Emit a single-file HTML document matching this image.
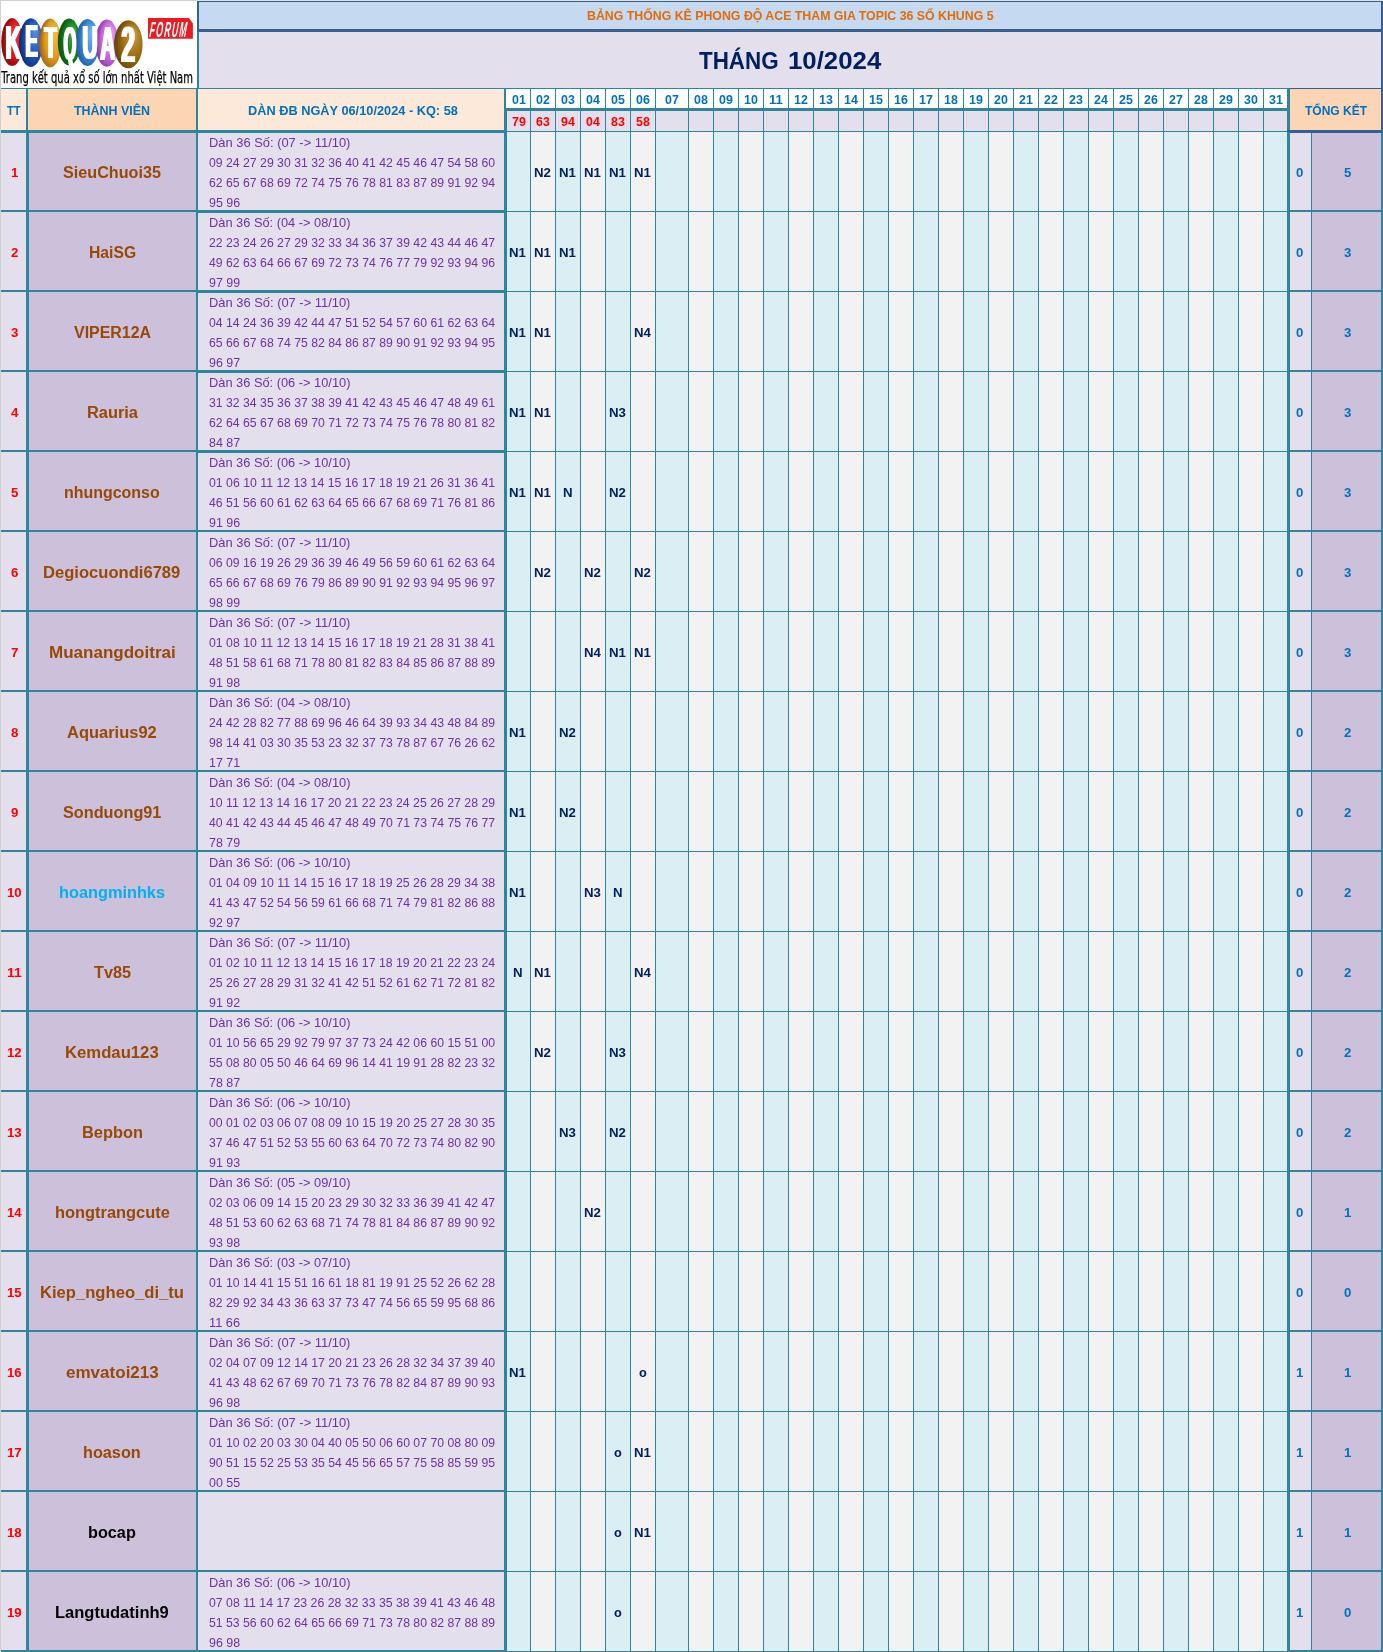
<!DOCTYPE html>
<html lang="vi"><head><meta charset="utf-8"><title>Bảng thống kê</title><style>
html,body{margin:0;padding:0;background:#fff}
#p{position:relative;width:1383px;height:1652px;overflow:hidden;font-family:"Liberation Sans",sans-serif}
.r{position:absolute}
.t{position:absolute;line-height:20px;height:20px;white-space:nowrap}
.b{font-weight:bold}.n{font-weight:normal}
.t span{display:inline-block;transform-origin:0 50%}
#logo{position:absolute;left:1px;top:1px;width:196px;height:87px}
</style></head><body><div id="p">
<div class="r" style="left:0px;top:0px;width:1383px;height:1652px;background:#d0d0d0"></div>
<div class="r" style="left:197px;top:0px;width:1186px;height:1px;background:#e5e1da"></div>
<div class="r" style="left:1px;top:1px;width:196px;height:87px;background:#ffffff"></div>
<div class="r" style="left:197px;top:1px;width:1186px;height:31px;background:#366092"></div>
<div class="r" style="left:199px;top:2px;width:1182px;height:27px;background:#c5d9f1"></div>
<div class="r" style="left:197px;top:32px;width:2px;height:56px;background:#31859b"></div>
<div class="r" style="left:199px;top:32px;width:1182px;height:56px;background:#e4dfec"></div>
<div class="r" style="left:1381px;top:32px;width:2px;height:56px;background:#366092"></div>
<div class="r" style="left:1px;top:88px;width:1289px;height:1px;background:#31859b"></div>
<div class="r" style="left:1290px;top:88px;width:93px;height:1px;background:#366092"></div>
<div class="r" style="left:1px;top:89px;width:1289px;height:44px;background:#31859b"></div>
<div class="r" style="left:1px;top:89px;width:25px;height:41px;background:#fde9d9"></div>
<div class="r" style="left:28px;top:89px;width:168px;height:41px;background:#fcd5b4"></div>
<div class="r" style="left:198px;top:89px;width:306px;height:41px;background:#fde9d9"></div>
<div class="r" style="left:506px;top:89px;width:24px;height:19px;background:#ffffff"></div>
<div class="r" style="left:507px;top:111px;width:23px;height:20px;background:#e4dfec"></div>
<div class="r" style="left:531px;top:89px;width:24px;height:19px;background:#ffffff"></div>
<div class="r" style="left:531px;top:111px;width:24px;height:20px;background:#e4dfec"></div>
<div class="r" style="left:556px;top:89px;width:24px;height:19px;background:#ffffff"></div>
<div class="r" style="left:556px;top:111px;width:24px;height:20px;background:#e4dfec"></div>
<div class="r" style="left:581px;top:89px;width:24px;height:19px;background:#ffffff"></div>
<div class="r" style="left:581px;top:111px;width:24px;height:20px;background:#e4dfec"></div>
<div class="r" style="left:606px;top:89px;width:24px;height:19px;background:#ffffff"></div>
<div class="r" style="left:606px;top:111px;width:24px;height:20px;background:#e4dfec"></div>
<div class="r" style="left:631px;top:89px;width:24px;height:19px;background:#ffffff"></div>
<div class="r" style="left:631px;top:111px;width:24px;height:20px;background:#e4dfec"></div>
<div class="r" style="left:656px;top:89px;width:32px;height:19px;background:#ffffff"></div>
<div class="r" style="left:656px;top:111px;width:32px;height:20px;background:#e4dfec"></div>
<div class="r" style="left:689px;top:89px;width:24px;height:19px;background:#ffffff"></div>
<div class="r" style="left:689px;top:111px;width:24px;height:20px;background:#e4dfec"></div>
<div class="r" style="left:714px;top:89px;width:24px;height:19px;background:#ffffff"></div>
<div class="r" style="left:714px;top:111px;width:24px;height:20px;background:#e4dfec"></div>
<div class="r" style="left:739px;top:89px;width:24px;height:19px;background:#ffffff"></div>
<div class="r" style="left:739px;top:111px;width:24px;height:20px;background:#e4dfec"></div>
<div class="r" style="left:764px;top:89px;width:24px;height:19px;background:#ffffff"></div>
<div class="r" style="left:764px;top:111px;width:24px;height:20px;background:#e4dfec"></div>
<div class="r" style="left:789px;top:89px;width:24px;height:19px;background:#ffffff"></div>
<div class="r" style="left:789px;top:111px;width:24px;height:20px;background:#e4dfec"></div>
<div class="r" style="left:814px;top:89px;width:24px;height:19px;background:#ffffff"></div>
<div class="r" style="left:814px;top:111px;width:24px;height:20px;background:#e4dfec"></div>
<div class="r" style="left:839px;top:89px;width:24px;height:19px;background:#ffffff"></div>
<div class="r" style="left:839px;top:111px;width:24px;height:20px;background:#e4dfec"></div>
<div class="r" style="left:864px;top:89px;width:24px;height:19px;background:#ffffff"></div>
<div class="r" style="left:864px;top:111px;width:24px;height:20px;background:#e4dfec"></div>
<div class="r" style="left:889px;top:89px;width:24px;height:19px;background:#ffffff"></div>
<div class="r" style="left:889px;top:111px;width:24px;height:20px;background:#e4dfec"></div>
<div class="r" style="left:914px;top:89px;width:24px;height:19px;background:#ffffff"></div>
<div class="r" style="left:914px;top:111px;width:24px;height:20px;background:#e4dfec"></div>
<div class="r" style="left:939px;top:89px;width:24px;height:19px;background:#ffffff"></div>
<div class="r" style="left:939px;top:111px;width:24px;height:20px;background:#e4dfec"></div>
<div class="r" style="left:964px;top:89px;width:24px;height:19px;background:#ffffff"></div>
<div class="r" style="left:964px;top:111px;width:24px;height:20px;background:#e4dfec"></div>
<div class="r" style="left:989px;top:89px;width:24px;height:19px;background:#ffffff"></div>
<div class="r" style="left:989px;top:111px;width:24px;height:20px;background:#e4dfec"></div>
<div class="r" style="left:1014px;top:89px;width:24px;height:19px;background:#ffffff"></div>
<div class="r" style="left:1014px;top:111px;width:24px;height:20px;background:#e4dfec"></div>
<div class="r" style="left:1039px;top:89px;width:24px;height:19px;background:#ffffff"></div>
<div class="r" style="left:1039px;top:111px;width:24px;height:20px;background:#e4dfec"></div>
<div class="r" style="left:1064px;top:89px;width:24px;height:19px;background:#ffffff"></div>
<div class="r" style="left:1064px;top:111px;width:24px;height:20px;background:#e4dfec"></div>
<div class="r" style="left:1089px;top:89px;width:24px;height:19px;background:#ffffff"></div>
<div class="r" style="left:1089px;top:111px;width:24px;height:20px;background:#e4dfec"></div>
<div class="r" style="left:1114px;top:89px;width:24px;height:19px;background:#ffffff"></div>
<div class="r" style="left:1114px;top:111px;width:24px;height:20px;background:#e4dfec"></div>
<div class="r" style="left:1139px;top:89px;width:24px;height:19px;background:#ffffff"></div>
<div class="r" style="left:1139px;top:111px;width:24px;height:20px;background:#e4dfec"></div>
<div class="r" style="left:1164px;top:89px;width:24px;height:19px;background:#ffffff"></div>
<div class="r" style="left:1164px;top:111px;width:24px;height:20px;background:#e4dfec"></div>
<div class="r" style="left:1189px;top:89px;width:24px;height:19px;background:#ffffff"></div>
<div class="r" style="left:1189px;top:111px;width:24px;height:20px;background:#e4dfec"></div>
<div class="r" style="left:1214px;top:89px;width:24px;height:19px;background:#ffffff"></div>
<div class="r" style="left:1214px;top:111px;width:24px;height:20px;background:#e4dfec"></div>
<div class="r" style="left:1239px;top:89px;width:24px;height:19px;background:#ffffff"></div>
<div class="r" style="left:1239px;top:111px;width:24px;height:20px;background:#e4dfec"></div>
<div class="r" style="left:1264px;top:89px;width:24px;height:19px;background:#ffffff"></div>
<div class="r" style="left:1264px;top:111px;width:23px;height:20px;background:#e4dfec"></div>
<div class="r" style="left:1287px;top:89px;width:3px;height:44px;background:#31859b"></div>
<div class="r" style="left:1290px;top:89px;width:93px;height:44px;background:#366092"></div>
<div class="r" style="left:1287px;top:130px;width:3px;height:3px;background:#366092"></div>
<div class="r" style="left:1290px;top:89px;width:91px;height:41px;background:#fcd5b4"></div>
<div class="r" style="left:1px;top:133px;width:1382px;height:1519px;background:#31859b"></div>
<div class="r" style="left:504px;top:132px;width:786px;height:1px;background:#31859b"></div>
<div class="r" style="left:1px;top:133px;width:25px;height:77px;background:#e4dfec"></div>
<div class="r" style="left:29px;top:133px;width:167px;height:77px;background:#ccc0da"></div>
<div class="r" style="left:198px;top:133px;width:306px;height:77px;background:#e4dfec"></div>
<div class="r" style="left:507px;top:132px;width:23px;height:79px;background:#daeef3"></div>
<div class="r" style="left:531px;top:132px;width:24px;height:79px;background:#f2f2f2"></div>
<div class="r" style="left:556px;top:132px;width:24px;height:79px;background:#daeef3"></div>
<div class="r" style="left:581px;top:132px;width:24px;height:79px;background:#f2f2f2"></div>
<div class="r" style="left:606px;top:132px;width:24px;height:79px;background:#daeef3"></div>
<div class="r" style="left:631px;top:132px;width:24px;height:79px;background:#f2f2f2"></div>
<div class="r" style="left:656px;top:132px;width:32px;height:79px;background:#daeef3"></div>
<div class="r" style="left:689px;top:132px;width:24px;height:79px;background:#f2f2f2"></div>
<div class="r" style="left:714px;top:132px;width:24px;height:79px;background:#daeef3"></div>
<div class="r" style="left:739px;top:132px;width:24px;height:79px;background:#f2f2f2"></div>
<div class="r" style="left:764px;top:132px;width:24px;height:79px;background:#daeef3"></div>
<div class="r" style="left:789px;top:132px;width:24px;height:79px;background:#f2f2f2"></div>
<div class="r" style="left:814px;top:132px;width:24px;height:79px;background:#daeef3"></div>
<div class="r" style="left:839px;top:132px;width:24px;height:79px;background:#f2f2f2"></div>
<div class="r" style="left:864px;top:132px;width:24px;height:79px;background:#daeef3"></div>
<div class="r" style="left:889px;top:132px;width:24px;height:79px;background:#f2f2f2"></div>
<div class="r" style="left:914px;top:132px;width:24px;height:79px;background:#daeef3"></div>
<div class="r" style="left:939px;top:132px;width:24px;height:79px;background:#f2f2f2"></div>
<div class="r" style="left:964px;top:132px;width:24px;height:79px;background:#daeef3"></div>
<div class="r" style="left:989px;top:132px;width:24px;height:79px;background:#f2f2f2"></div>
<div class="r" style="left:1014px;top:132px;width:24px;height:79px;background:#daeef3"></div>
<div class="r" style="left:1039px;top:132px;width:24px;height:79px;background:#f2f2f2"></div>
<div class="r" style="left:1064px;top:132px;width:24px;height:79px;background:#daeef3"></div>
<div class="r" style="left:1089px;top:132px;width:24px;height:79px;background:#f2f2f2"></div>
<div class="r" style="left:1114px;top:132px;width:24px;height:79px;background:#daeef3"></div>
<div class="r" style="left:1139px;top:132px;width:24px;height:79px;background:#f2f2f2"></div>
<div class="r" style="left:1164px;top:132px;width:24px;height:79px;background:#daeef3"></div>
<div class="r" style="left:1189px;top:132px;width:24px;height:79px;background:#f2f2f2"></div>
<div class="r" style="left:1214px;top:132px;width:24px;height:79px;background:#daeef3"></div>
<div class="r" style="left:1239px;top:132px;width:24px;height:79px;background:#f2f2f2"></div>
<div class="r" style="left:1264px;top:132px;width:23px;height:79px;background:#daeef3"></div>
<div class="r" style="left:1290px;top:133px;width:21px;height:77px;background:#e4dfec"></div>
<div class="r" style="left:1312px;top:133px;width:69px;height:77px;background:#ccc0da"></div>
<div class="r" style="left:1px;top:212px;width:25px;height:78px;background:#e4dfec"></div>
<div class="r" style="left:29px;top:212px;width:167px;height:78px;background:#ccc0da"></div>
<div class="r" style="left:198px;top:213px;width:306px;height:77px;background:#e4dfec"></div>
<div class="r" style="left:507px;top:212px;width:23px;height:79px;background:#daeef3"></div>
<div class="r" style="left:531px;top:212px;width:24px;height:79px;background:#f2f2f2"></div>
<div class="r" style="left:556px;top:212px;width:24px;height:79px;background:#daeef3"></div>
<div class="r" style="left:581px;top:212px;width:24px;height:79px;background:#f2f2f2"></div>
<div class="r" style="left:606px;top:212px;width:24px;height:79px;background:#daeef3"></div>
<div class="r" style="left:631px;top:212px;width:24px;height:79px;background:#f2f2f2"></div>
<div class="r" style="left:656px;top:212px;width:32px;height:79px;background:#daeef3"></div>
<div class="r" style="left:689px;top:212px;width:24px;height:79px;background:#f2f2f2"></div>
<div class="r" style="left:714px;top:212px;width:24px;height:79px;background:#daeef3"></div>
<div class="r" style="left:739px;top:212px;width:24px;height:79px;background:#f2f2f2"></div>
<div class="r" style="left:764px;top:212px;width:24px;height:79px;background:#daeef3"></div>
<div class="r" style="left:789px;top:212px;width:24px;height:79px;background:#f2f2f2"></div>
<div class="r" style="left:814px;top:212px;width:24px;height:79px;background:#daeef3"></div>
<div class="r" style="left:839px;top:212px;width:24px;height:79px;background:#f2f2f2"></div>
<div class="r" style="left:864px;top:212px;width:24px;height:79px;background:#daeef3"></div>
<div class="r" style="left:889px;top:212px;width:24px;height:79px;background:#f2f2f2"></div>
<div class="r" style="left:914px;top:212px;width:24px;height:79px;background:#daeef3"></div>
<div class="r" style="left:939px;top:212px;width:24px;height:79px;background:#f2f2f2"></div>
<div class="r" style="left:964px;top:212px;width:24px;height:79px;background:#daeef3"></div>
<div class="r" style="left:989px;top:212px;width:24px;height:79px;background:#f2f2f2"></div>
<div class="r" style="left:1014px;top:212px;width:24px;height:79px;background:#daeef3"></div>
<div class="r" style="left:1039px;top:212px;width:24px;height:79px;background:#f2f2f2"></div>
<div class="r" style="left:1064px;top:212px;width:24px;height:79px;background:#daeef3"></div>
<div class="r" style="left:1089px;top:212px;width:24px;height:79px;background:#f2f2f2"></div>
<div class="r" style="left:1114px;top:212px;width:24px;height:79px;background:#daeef3"></div>
<div class="r" style="left:1139px;top:212px;width:24px;height:79px;background:#f2f2f2"></div>
<div class="r" style="left:1164px;top:212px;width:24px;height:79px;background:#daeef3"></div>
<div class="r" style="left:1189px;top:212px;width:24px;height:79px;background:#f2f2f2"></div>
<div class="r" style="left:1214px;top:212px;width:24px;height:79px;background:#daeef3"></div>
<div class="r" style="left:1239px;top:212px;width:24px;height:79px;background:#f2f2f2"></div>
<div class="r" style="left:1264px;top:212px;width:23px;height:79px;background:#daeef3"></div>
<div class="r" style="left:1290px;top:212px;width:21px;height:78px;background:#e4dfec"></div>
<div class="r" style="left:1312px;top:212px;width:69px;height:78px;background:#ccc0da"></div>
<div class="r" style="left:1px;top:292px;width:25px;height:78px;background:#e4dfec"></div>
<div class="r" style="left:29px;top:292px;width:167px;height:78px;background:#ccc0da"></div>
<div class="r" style="left:198px;top:293px;width:306px;height:77px;background:#e4dfec"></div>
<div class="r" style="left:507px;top:292px;width:23px;height:79px;background:#daeef3"></div>
<div class="r" style="left:531px;top:292px;width:24px;height:79px;background:#f2f2f2"></div>
<div class="r" style="left:556px;top:292px;width:24px;height:79px;background:#daeef3"></div>
<div class="r" style="left:581px;top:292px;width:24px;height:79px;background:#f2f2f2"></div>
<div class="r" style="left:606px;top:292px;width:24px;height:79px;background:#daeef3"></div>
<div class="r" style="left:631px;top:292px;width:24px;height:79px;background:#f2f2f2"></div>
<div class="r" style="left:656px;top:292px;width:32px;height:79px;background:#daeef3"></div>
<div class="r" style="left:689px;top:292px;width:24px;height:79px;background:#f2f2f2"></div>
<div class="r" style="left:714px;top:292px;width:24px;height:79px;background:#daeef3"></div>
<div class="r" style="left:739px;top:292px;width:24px;height:79px;background:#f2f2f2"></div>
<div class="r" style="left:764px;top:292px;width:24px;height:79px;background:#daeef3"></div>
<div class="r" style="left:789px;top:292px;width:24px;height:79px;background:#f2f2f2"></div>
<div class="r" style="left:814px;top:292px;width:24px;height:79px;background:#daeef3"></div>
<div class="r" style="left:839px;top:292px;width:24px;height:79px;background:#f2f2f2"></div>
<div class="r" style="left:864px;top:292px;width:24px;height:79px;background:#daeef3"></div>
<div class="r" style="left:889px;top:292px;width:24px;height:79px;background:#f2f2f2"></div>
<div class="r" style="left:914px;top:292px;width:24px;height:79px;background:#daeef3"></div>
<div class="r" style="left:939px;top:292px;width:24px;height:79px;background:#f2f2f2"></div>
<div class="r" style="left:964px;top:292px;width:24px;height:79px;background:#daeef3"></div>
<div class="r" style="left:989px;top:292px;width:24px;height:79px;background:#f2f2f2"></div>
<div class="r" style="left:1014px;top:292px;width:24px;height:79px;background:#daeef3"></div>
<div class="r" style="left:1039px;top:292px;width:24px;height:79px;background:#f2f2f2"></div>
<div class="r" style="left:1064px;top:292px;width:24px;height:79px;background:#daeef3"></div>
<div class="r" style="left:1089px;top:292px;width:24px;height:79px;background:#f2f2f2"></div>
<div class="r" style="left:1114px;top:292px;width:24px;height:79px;background:#daeef3"></div>
<div class="r" style="left:1139px;top:292px;width:24px;height:79px;background:#f2f2f2"></div>
<div class="r" style="left:1164px;top:292px;width:24px;height:79px;background:#daeef3"></div>
<div class="r" style="left:1189px;top:292px;width:24px;height:79px;background:#f2f2f2"></div>
<div class="r" style="left:1214px;top:292px;width:24px;height:79px;background:#daeef3"></div>
<div class="r" style="left:1239px;top:292px;width:24px;height:79px;background:#f2f2f2"></div>
<div class="r" style="left:1264px;top:292px;width:23px;height:79px;background:#daeef3"></div>
<div class="r" style="left:1290px;top:292px;width:21px;height:78px;background:#e4dfec"></div>
<div class="r" style="left:1312px;top:292px;width:69px;height:78px;background:#ccc0da"></div>
<div class="r" style="left:1px;top:372px;width:25px;height:78px;background:#e4dfec"></div>
<div class="r" style="left:29px;top:372px;width:167px;height:78px;background:#ccc0da"></div>
<div class="r" style="left:198px;top:373px;width:306px;height:77px;background:#e4dfec"></div>
<div class="r" style="left:507px;top:372px;width:23px;height:79px;background:#daeef3"></div>
<div class="r" style="left:531px;top:372px;width:24px;height:79px;background:#f2f2f2"></div>
<div class="r" style="left:556px;top:372px;width:24px;height:79px;background:#daeef3"></div>
<div class="r" style="left:581px;top:372px;width:24px;height:79px;background:#f2f2f2"></div>
<div class="r" style="left:606px;top:372px;width:24px;height:79px;background:#daeef3"></div>
<div class="r" style="left:631px;top:372px;width:24px;height:79px;background:#f2f2f2"></div>
<div class="r" style="left:656px;top:372px;width:32px;height:79px;background:#daeef3"></div>
<div class="r" style="left:689px;top:372px;width:24px;height:79px;background:#f2f2f2"></div>
<div class="r" style="left:714px;top:372px;width:24px;height:79px;background:#daeef3"></div>
<div class="r" style="left:739px;top:372px;width:24px;height:79px;background:#f2f2f2"></div>
<div class="r" style="left:764px;top:372px;width:24px;height:79px;background:#daeef3"></div>
<div class="r" style="left:789px;top:372px;width:24px;height:79px;background:#f2f2f2"></div>
<div class="r" style="left:814px;top:372px;width:24px;height:79px;background:#daeef3"></div>
<div class="r" style="left:839px;top:372px;width:24px;height:79px;background:#f2f2f2"></div>
<div class="r" style="left:864px;top:372px;width:24px;height:79px;background:#daeef3"></div>
<div class="r" style="left:889px;top:372px;width:24px;height:79px;background:#f2f2f2"></div>
<div class="r" style="left:914px;top:372px;width:24px;height:79px;background:#daeef3"></div>
<div class="r" style="left:939px;top:372px;width:24px;height:79px;background:#f2f2f2"></div>
<div class="r" style="left:964px;top:372px;width:24px;height:79px;background:#daeef3"></div>
<div class="r" style="left:989px;top:372px;width:24px;height:79px;background:#f2f2f2"></div>
<div class="r" style="left:1014px;top:372px;width:24px;height:79px;background:#daeef3"></div>
<div class="r" style="left:1039px;top:372px;width:24px;height:79px;background:#f2f2f2"></div>
<div class="r" style="left:1064px;top:372px;width:24px;height:79px;background:#daeef3"></div>
<div class="r" style="left:1089px;top:372px;width:24px;height:79px;background:#f2f2f2"></div>
<div class="r" style="left:1114px;top:372px;width:24px;height:79px;background:#daeef3"></div>
<div class="r" style="left:1139px;top:372px;width:24px;height:79px;background:#f2f2f2"></div>
<div class="r" style="left:1164px;top:372px;width:24px;height:79px;background:#daeef3"></div>
<div class="r" style="left:1189px;top:372px;width:24px;height:79px;background:#f2f2f2"></div>
<div class="r" style="left:1214px;top:372px;width:24px;height:79px;background:#daeef3"></div>
<div class="r" style="left:1239px;top:372px;width:24px;height:79px;background:#f2f2f2"></div>
<div class="r" style="left:1264px;top:372px;width:23px;height:79px;background:#daeef3"></div>
<div class="r" style="left:1290px;top:372px;width:21px;height:78px;background:#e4dfec"></div>
<div class="r" style="left:1312px;top:372px;width:69px;height:78px;background:#ccc0da"></div>
<div class="r" style="left:1px;top:452px;width:25px;height:78px;background:#e4dfec"></div>
<div class="r" style="left:29px;top:452px;width:167px;height:78px;background:#ccc0da"></div>
<div class="r" style="left:198px;top:453px;width:306px;height:77px;background:#e4dfec"></div>
<div class="r" style="left:507px;top:452px;width:23px;height:79px;background:#daeef3"></div>
<div class="r" style="left:531px;top:452px;width:24px;height:79px;background:#f2f2f2"></div>
<div class="r" style="left:556px;top:452px;width:24px;height:79px;background:#daeef3"></div>
<div class="r" style="left:581px;top:452px;width:24px;height:79px;background:#f2f2f2"></div>
<div class="r" style="left:606px;top:452px;width:24px;height:79px;background:#daeef3"></div>
<div class="r" style="left:631px;top:452px;width:24px;height:79px;background:#f2f2f2"></div>
<div class="r" style="left:656px;top:452px;width:32px;height:79px;background:#daeef3"></div>
<div class="r" style="left:689px;top:452px;width:24px;height:79px;background:#f2f2f2"></div>
<div class="r" style="left:714px;top:452px;width:24px;height:79px;background:#daeef3"></div>
<div class="r" style="left:739px;top:452px;width:24px;height:79px;background:#f2f2f2"></div>
<div class="r" style="left:764px;top:452px;width:24px;height:79px;background:#daeef3"></div>
<div class="r" style="left:789px;top:452px;width:24px;height:79px;background:#f2f2f2"></div>
<div class="r" style="left:814px;top:452px;width:24px;height:79px;background:#daeef3"></div>
<div class="r" style="left:839px;top:452px;width:24px;height:79px;background:#f2f2f2"></div>
<div class="r" style="left:864px;top:452px;width:24px;height:79px;background:#daeef3"></div>
<div class="r" style="left:889px;top:452px;width:24px;height:79px;background:#f2f2f2"></div>
<div class="r" style="left:914px;top:452px;width:24px;height:79px;background:#daeef3"></div>
<div class="r" style="left:939px;top:452px;width:24px;height:79px;background:#f2f2f2"></div>
<div class="r" style="left:964px;top:452px;width:24px;height:79px;background:#daeef3"></div>
<div class="r" style="left:989px;top:452px;width:24px;height:79px;background:#f2f2f2"></div>
<div class="r" style="left:1014px;top:452px;width:24px;height:79px;background:#daeef3"></div>
<div class="r" style="left:1039px;top:452px;width:24px;height:79px;background:#f2f2f2"></div>
<div class="r" style="left:1064px;top:452px;width:24px;height:79px;background:#daeef3"></div>
<div class="r" style="left:1089px;top:452px;width:24px;height:79px;background:#f2f2f2"></div>
<div class="r" style="left:1114px;top:452px;width:24px;height:79px;background:#daeef3"></div>
<div class="r" style="left:1139px;top:452px;width:24px;height:79px;background:#f2f2f2"></div>
<div class="r" style="left:1164px;top:452px;width:24px;height:79px;background:#daeef3"></div>
<div class="r" style="left:1189px;top:452px;width:24px;height:79px;background:#f2f2f2"></div>
<div class="r" style="left:1214px;top:452px;width:24px;height:79px;background:#daeef3"></div>
<div class="r" style="left:1239px;top:452px;width:24px;height:79px;background:#f2f2f2"></div>
<div class="r" style="left:1264px;top:452px;width:23px;height:79px;background:#daeef3"></div>
<div class="r" style="left:1290px;top:452px;width:21px;height:78px;background:#e4dfec"></div>
<div class="r" style="left:1312px;top:452px;width:69px;height:78px;background:#ccc0da"></div>
<div class="r" style="left:1px;top:532px;width:25px;height:78px;background:#e4dfec"></div>
<div class="r" style="left:29px;top:532px;width:167px;height:78px;background:#ccc0da"></div>
<div class="r" style="left:198px;top:532px;width:306px;height:78px;background:#e4dfec"></div>
<div class="r" style="left:507px;top:532px;width:23px;height:79px;background:#daeef3"></div>
<div class="r" style="left:531px;top:532px;width:24px;height:79px;background:#f2f2f2"></div>
<div class="r" style="left:556px;top:532px;width:24px;height:79px;background:#daeef3"></div>
<div class="r" style="left:581px;top:532px;width:24px;height:79px;background:#f2f2f2"></div>
<div class="r" style="left:606px;top:532px;width:24px;height:79px;background:#daeef3"></div>
<div class="r" style="left:631px;top:532px;width:24px;height:79px;background:#f2f2f2"></div>
<div class="r" style="left:656px;top:532px;width:32px;height:79px;background:#daeef3"></div>
<div class="r" style="left:689px;top:532px;width:24px;height:79px;background:#f2f2f2"></div>
<div class="r" style="left:714px;top:532px;width:24px;height:79px;background:#daeef3"></div>
<div class="r" style="left:739px;top:532px;width:24px;height:79px;background:#f2f2f2"></div>
<div class="r" style="left:764px;top:532px;width:24px;height:79px;background:#daeef3"></div>
<div class="r" style="left:789px;top:532px;width:24px;height:79px;background:#f2f2f2"></div>
<div class="r" style="left:814px;top:532px;width:24px;height:79px;background:#daeef3"></div>
<div class="r" style="left:839px;top:532px;width:24px;height:79px;background:#f2f2f2"></div>
<div class="r" style="left:864px;top:532px;width:24px;height:79px;background:#daeef3"></div>
<div class="r" style="left:889px;top:532px;width:24px;height:79px;background:#f2f2f2"></div>
<div class="r" style="left:914px;top:532px;width:24px;height:79px;background:#daeef3"></div>
<div class="r" style="left:939px;top:532px;width:24px;height:79px;background:#f2f2f2"></div>
<div class="r" style="left:964px;top:532px;width:24px;height:79px;background:#daeef3"></div>
<div class="r" style="left:989px;top:532px;width:24px;height:79px;background:#f2f2f2"></div>
<div class="r" style="left:1014px;top:532px;width:24px;height:79px;background:#daeef3"></div>
<div class="r" style="left:1039px;top:532px;width:24px;height:79px;background:#f2f2f2"></div>
<div class="r" style="left:1064px;top:532px;width:24px;height:79px;background:#daeef3"></div>
<div class="r" style="left:1089px;top:532px;width:24px;height:79px;background:#f2f2f2"></div>
<div class="r" style="left:1114px;top:532px;width:24px;height:79px;background:#daeef3"></div>
<div class="r" style="left:1139px;top:532px;width:24px;height:79px;background:#f2f2f2"></div>
<div class="r" style="left:1164px;top:532px;width:24px;height:79px;background:#daeef3"></div>
<div class="r" style="left:1189px;top:532px;width:24px;height:79px;background:#f2f2f2"></div>
<div class="r" style="left:1214px;top:532px;width:24px;height:79px;background:#daeef3"></div>
<div class="r" style="left:1239px;top:532px;width:24px;height:79px;background:#f2f2f2"></div>
<div class="r" style="left:1264px;top:532px;width:23px;height:79px;background:#daeef3"></div>
<div class="r" style="left:1290px;top:532px;width:21px;height:78px;background:#e4dfec"></div>
<div class="r" style="left:1312px;top:532px;width:69px;height:78px;background:#ccc0da"></div>
<div class="r" style="left:1px;top:612px;width:25px;height:78px;background:#e4dfec"></div>
<div class="r" style="left:29px;top:612px;width:167px;height:78px;background:#ccc0da"></div>
<div class="r" style="left:198px;top:612px;width:306px;height:78px;background:#e4dfec"></div>
<div class="r" style="left:507px;top:612px;width:23px;height:79px;background:#daeef3"></div>
<div class="r" style="left:531px;top:612px;width:24px;height:79px;background:#f2f2f2"></div>
<div class="r" style="left:556px;top:612px;width:24px;height:79px;background:#daeef3"></div>
<div class="r" style="left:581px;top:612px;width:24px;height:79px;background:#f2f2f2"></div>
<div class="r" style="left:606px;top:612px;width:24px;height:79px;background:#daeef3"></div>
<div class="r" style="left:631px;top:612px;width:24px;height:79px;background:#f2f2f2"></div>
<div class="r" style="left:656px;top:612px;width:32px;height:79px;background:#daeef3"></div>
<div class="r" style="left:689px;top:612px;width:24px;height:79px;background:#f2f2f2"></div>
<div class="r" style="left:714px;top:612px;width:24px;height:79px;background:#daeef3"></div>
<div class="r" style="left:739px;top:612px;width:24px;height:79px;background:#f2f2f2"></div>
<div class="r" style="left:764px;top:612px;width:24px;height:79px;background:#daeef3"></div>
<div class="r" style="left:789px;top:612px;width:24px;height:79px;background:#f2f2f2"></div>
<div class="r" style="left:814px;top:612px;width:24px;height:79px;background:#daeef3"></div>
<div class="r" style="left:839px;top:612px;width:24px;height:79px;background:#f2f2f2"></div>
<div class="r" style="left:864px;top:612px;width:24px;height:79px;background:#daeef3"></div>
<div class="r" style="left:889px;top:612px;width:24px;height:79px;background:#f2f2f2"></div>
<div class="r" style="left:914px;top:612px;width:24px;height:79px;background:#daeef3"></div>
<div class="r" style="left:939px;top:612px;width:24px;height:79px;background:#f2f2f2"></div>
<div class="r" style="left:964px;top:612px;width:24px;height:79px;background:#daeef3"></div>
<div class="r" style="left:989px;top:612px;width:24px;height:79px;background:#f2f2f2"></div>
<div class="r" style="left:1014px;top:612px;width:24px;height:79px;background:#daeef3"></div>
<div class="r" style="left:1039px;top:612px;width:24px;height:79px;background:#f2f2f2"></div>
<div class="r" style="left:1064px;top:612px;width:24px;height:79px;background:#daeef3"></div>
<div class="r" style="left:1089px;top:612px;width:24px;height:79px;background:#f2f2f2"></div>
<div class="r" style="left:1114px;top:612px;width:24px;height:79px;background:#daeef3"></div>
<div class="r" style="left:1139px;top:612px;width:24px;height:79px;background:#f2f2f2"></div>
<div class="r" style="left:1164px;top:612px;width:24px;height:79px;background:#daeef3"></div>
<div class="r" style="left:1189px;top:612px;width:24px;height:79px;background:#f2f2f2"></div>
<div class="r" style="left:1214px;top:612px;width:24px;height:79px;background:#daeef3"></div>
<div class="r" style="left:1239px;top:612px;width:24px;height:79px;background:#f2f2f2"></div>
<div class="r" style="left:1264px;top:612px;width:23px;height:79px;background:#daeef3"></div>
<div class="r" style="left:1290px;top:612px;width:21px;height:78px;background:#e4dfec"></div>
<div class="r" style="left:1312px;top:612px;width:69px;height:78px;background:#ccc0da"></div>
<div class="r" style="left:1px;top:692px;width:25px;height:78px;background:#e4dfec"></div>
<div class="r" style="left:29px;top:692px;width:167px;height:78px;background:#ccc0da"></div>
<div class="r" style="left:198px;top:692px;width:306px;height:78px;background:#e4dfec"></div>
<div class="r" style="left:507px;top:692px;width:23px;height:79px;background:#daeef3"></div>
<div class="r" style="left:531px;top:692px;width:24px;height:79px;background:#f2f2f2"></div>
<div class="r" style="left:556px;top:692px;width:24px;height:79px;background:#daeef3"></div>
<div class="r" style="left:581px;top:692px;width:24px;height:79px;background:#f2f2f2"></div>
<div class="r" style="left:606px;top:692px;width:24px;height:79px;background:#daeef3"></div>
<div class="r" style="left:631px;top:692px;width:24px;height:79px;background:#f2f2f2"></div>
<div class="r" style="left:656px;top:692px;width:32px;height:79px;background:#daeef3"></div>
<div class="r" style="left:689px;top:692px;width:24px;height:79px;background:#f2f2f2"></div>
<div class="r" style="left:714px;top:692px;width:24px;height:79px;background:#daeef3"></div>
<div class="r" style="left:739px;top:692px;width:24px;height:79px;background:#f2f2f2"></div>
<div class="r" style="left:764px;top:692px;width:24px;height:79px;background:#daeef3"></div>
<div class="r" style="left:789px;top:692px;width:24px;height:79px;background:#f2f2f2"></div>
<div class="r" style="left:814px;top:692px;width:24px;height:79px;background:#daeef3"></div>
<div class="r" style="left:839px;top:692px;width:24px;height:79px;background:#f2f2f2"></div>
<div class="r" style="left:864px;top:692px;width:24px;height:79px;background:#daeef3"></div>
<div class="r" style="left:889px;top:692px;width:24px;height:79px;background:#f2f2f2"></div>
<div class="r" style="left:914px;top:692px;width:24px;height:79px;background:#daeef3"></div>
<div class="r" style="left:939px;top:692px;width:24px;height:79px;background:#f2f2f2"></div>
<div class="r" style="left:964px;top:692px;width:24px;height:79px;background:#daeef3"></div>
<div class="r" style="left:989px;top:692px;width:24px;height:79px;background:#f2f2f2"></div>
<div class="r" style="left:1014px;top:692px;width:24px;height:79px;background:#daeef3"></div>
<div class="r" style="left:1039px;top:692px;width:24px;height:79px;background:#f2f2f2"></div>
<div class="r" style="left:1064px;top:692px;width:24px;height:79px;background:#daeef3"></div>
<div class="r" style="left:1089px;top:692px;width:24px;height:79px;background:#f2f2f2"></div>
<div class="r" style="left:1114px;top:692px;width:24px;height:79px;background:#daeef3"></div>
<div class="r" style="left:1139px;top:692px;width:24px;height:79px;background:#f2f2f2"></div>
<div class="r" style="left:1164px;top:692px;width:24px;height:79px;background:#daeef3"></div>
<div class="r" style="left:1189px;top:692px;width:24px;height:79px;background:#f2f2f2"></div>
<div class="r" style="left:1214px;top:692px;width:24px;height:79px;background:#daeef3"></div>
<div class="r" style="left:1239px;top:692px;width:24px;height:79px;background:#f2f2f2"></div>
<div class="r" style="left:1264px;top:692px;width:23px;height:79px;background:#daeef3"></div>
<div class="r" style="left:1290px;top:692px;width:21px;height:78px;background:#e4dfec"></div>
<div class="r" style="left:1312px;top:692px;width:69px;height:78px;background:#ccc0da"></div>
<div class="r" style="left:1px;top:772px;width:25px;height:78px;background:#e4dfec"></div>
<div class="r" style="left:29px;top:772px;width:167px;height:78px;background:#ccc0da"></div>
<div class="r" style="left:198px;top:772px;width:306px;height:78px;background:#e4dfec"></div>
<div class="r" style="left:507px;top:772px;width:23px;height:79px;background:#daeef3"></div>
<div class="r" style="left:531px;top:772px;width:24px;height:79px;background:#f2f2f2"></div>
<div class="r" style="left:556px;top:772px;width:24px;height:79px;background:#daeef3"></div>
<div class="r" style="left:581px;top:772px;width:24px;height:79px;background:#f2f2f2"></div>
<div class="r" style="left:606px;top:772px;width:24px;height:79px;background:#daeef3"></div>
<div class="r" style="left:631px;top:772px;width:24px;height:79px;background:#f2f2f2"></div>
<div class="r" style="left:656px;top:772px;width:32px;height:79px;background:#daeef3"></div>
<div class="r" style="left:689px;top:772px;width:24px;height:79px;background:#f2f2f2"></div>
<div class="r" style="left:714px;top:772px;width:24px;height:79px;background:#daeef3"></div>
<div class="r" style="left:739px;top:772px;width:24px;height:79px;background:#f2f2f2"></div>
<div class="r" style="left:764px;top:772px;width:24px;height:79px;background:#daeef3"></div>
<div class="r" style="left:789px;top:772px;width:24px;height:79px;background:#f2f2f2"></div>
<div class="r" style="left:814px;top:772px;width:24px;height:79px;background:#daeef3"></div>
<div class="r" style="left:839px;top:772px;width:24px;height:79px;background:#f2f2f2"></div>
<div class="r" style="left:864px;top:772px;width:24px;height:79px;background:#daeef3"></div>
<div class="r" style="left:889px;top:772px;width:24px;height:79px;background:#f2f2f2"></div>
<div class="r" style="left:914px;top:772px;width:24px;height:79px;background:#daeef3"></div>
<div class="r" style="left:939px;top:772px;width:24px;height:79px;background:#f2f2f2"></div>
<div class="r" style="left:964px;top:772px;width:24px;height:79px;background:#daeef3"></div>
<div class="r" style="left:989px;top:772px;width:24px;height:79px;background:#f2f2f2"></div>
<div class="r" style="left:1014px;top:772px;width:24px;height:79px;background:#daeef3"></div>
<div class="r" style="left:1039px;top:772px;width:24px;height:79px;background:#f2f2f2"></div>
<div class="r" style="left:1064px;top:772px;width:24px;height:79px;background:#daeef3"></div>
<div class="r" style="left:1089px;top:772px;width:24px;height:79px;background:#f2f2f2"></div>
<div class="r" style="left:1114px;top:772px;width:24px;height:79px;background:#daeef3"></div>
<div class="r" style="left:1139px;top:772px;width:24px;height:79px;background:#f2f2f2"></div>
<div class="r" style="left:1164px;top:772px;width:24px;height:79px;background:#daeef3"></div>
<div class="r" style="left:1189px;top:772px;width:24px;height:79px;background:#f2f2f2"></div>
<div class="r" style="left:1214px;top:772px;width:24px;height:79px;background:#daeef3"></div>
<div class="r" style="left:1239px;top:772px;width:24px;height:79px;background:#f2f2f2"></div>
<div class="r" style="left:1264px;top:772px;width:23px;height:79px;background:#daeef3"></div>
<div class="r" style="left:1290px;top:772px;width:21px;height:78px;background:#e4dfec"></div>
<div class="r" style="left:1312px;top:772px;width:69px;height:78px;background:#ccc0da"></div>
<div class="r" style="left:1px;top:852px;width:25px;height:78px;background:#e4dfec"></div>
<div class="r" style="left:29px;top:852px;width:167px;height:78px;background:#ccc0da"></div>
<div class="r" style="left:198px;top:852px;width:306px;height:78px;background:#e4dfec"></div>
<div class="r" style="left:507px;top:852px;width:23px;height:79px;background:#daeef3"></div>
<div class="r" style="left:531px;top:852px;width:24px;height:79px;background:#f2f2f2"></div>
<div class="r" style="left:556px;top:852px;width:24px;height:79px;background:#daeef3"></div>
<div class="r" style="left:581px;top:852px;width:24px;height:79px;background:#f2f2f2"></div>
<div class="r" style="left:606px;top:852px;width:24px;height:79px;background:#daeef3"></div>
<div class="r" style="left:631px;top:852px;width:24px;height:79px;background:#f2f2f2"></div>
<div class="r" style="left:656px;top:852px;width:32px;height:79px;background:#daeef3"></div>
<div class="r" style="left:689px;top:852px;width:24px;height:79px;background:#f2f2f2"></div>
<div class="r" style="left:714px;top:852px;width:24px;height:79px;background:#daeef3"></div>
<div class="r" style="left:739px;top:852px;width:24px;height:79px;background:#f2f2f2"></div>
<div class="r" style="left:764px;top:852px;width:24px;height:79px;background:#daeef3"></div>
<div class="r" style="left:789px;top:852px;width:24px;height:79px;background:#f2f2f2"></div>
<div class="r" style="left:814px;top:852px;width:24px;height:79px;background:#daeef3"></div>
<div class="r" style="left:839px;top:852px;width:24px;height:79px;background:#f2f2f2"></div>
<div class="r" style="left:864px;top:852px;width:24px;height:79px;background:#daeef3"></div>
<div class="r" style="left:889px;top:852px;width:24px;height:79px;background:#f2f2f2"></div>
<div class="r" style="left:914px;top:852px;width:24px;height:79px;background:#daeef3"></div>
<div class="r" style="left:939px;top:852px;width:24px;height:79px;background:#f2f2f2"></div>
<div class="r" style="left:964px;top:852px;width:24px;height:79px;background:#daeef3"></div>
<div class="r" style="left:989px;top:852px;width:24px;height:79px;background:#f2f2f2"></div>
<div class="r" style="left:1014px;top:852px;width:24px;height:79px;background:#daeef3"></div>
<div class="r" style="left:1039px;top:852px;width:24px;height:79px;background:#f2f2f2"></div>
<div class="r" style="left:1064px;top:852px;width:24px;height:79px;background:#daeef3"></div>
<div class="r" style="left:1089px;top:852px;width:24px;height:79px;background:#f2f2f2"></div>
<div class="r" style="left:1114px;top:852px;width:24px;height:79px;background:#daeef3"></div>
<div class="r" style="left:1139px;top:852px;width:24px;height:79px;background:#f2f2f2"></div>
<div class="r" style="left:1164px;top:852px;width:24px;height:79px;background:#daeef3"></div>
<div class="r" style="left:1189px;top:852px;width:24px;height:79px;background:#f2f2f2"></div>
<div class="r" style="left:1214px;top:852px;width:24px;height:79px;background:#daeef3"></div>
<div class="r" style="left:1239px;top:852px;width:24px;height:79px;background:#f2f2f2"></div>
<div class="r" style="left:1264px;top:852px;width:23px;height:79px;background:#daeef3"></div>
<div class="r" style="left:1290px;top:852px;width:21px;height:78px;background:#e4dfec"></div>
<div class="r" style="left:1312px;top:852px;width:69px;height:78px;background:#ccc0da"></div>
<div class="r" style="left:1px;top:932px;width:25px;height:78px;background:#e4dfec"></div>
<div class="r" style="left:29px;top:932px;width:167px;height:78px;background:#ccc0da"></div>
<div class="r" style="left:198px;top:932px;width:306px;height:78px;background:#e4dfec"></div>
<div class="r" style="left:507px;top:932px;width:23px;height:79px;background:#daeef3"></div>
<div class="r" style="left:531px;top:932px;width:24px;height:79px;background:#f2f2f2"></div>
<div class="r" style="left:556px;top:932px;width:24px;height:79px;background:#daeef3"></div>
<div class="r" style="left:581px;top:932px;width:24px;height:79px;background:#f2f2f2"></div>
<div class="r" style="left:606px;top:932px;width:24px;height:79px;background:#daeef3"></div>
<div class="r" style="left:631px;top:932px;width:24px;height:79px;background:#f2f2f2"></div>
<div class="r" style="left:656px;top:932px;width:32px;height:79px;background:#daeef3"></div>
<div class="r" style="left:689px;top:932px;width:24px;height:79px;background:#f2f2f2"></div>
<div class="r" style="left:714px;top:932px;width:24px;height:79px;background:#daeef3"></div>
<div class="r" style="left:739px;top:932px;width:24px;height:79px;background:#f2f2f2"></div>
<div class="r" style="left:764px;top:932px;width:24px;height:79px;background:#daeef3"></div>
<div class="r" style="left:789px;top:932px;width:24px;height:79px;background:#f2f2f2"></div>
<div class="r" style="left:814px;top:932px;width:24px;height:79px;background:#daeef3"></div>
<div class="r" style="left:839px;top:932px;width:24px;height:79px;background:#f2f2f2"></div>
<div class="r" style="left:864px;top:932px;width:24px;height:79px;background:#daeef3"></div>
<div class="r" style="left:889px;top:932px;width:24px;height:79px;background:#f2f2f2"></div>
<div class="r" style="left:914px;top:932px;width:24px;height:79px;background:#daeef3"></div>
<div class="r" style="left:939px;top:932px;width:24px;height:79px;background:#f2f2f2"></div>
<div class="r" style="left:964px;top:932px;width:24px;height:79px;background:#daeef3"></div>
<div class="r" style="left:989px;top:932px;width:24px;height:79px;background:#f2f2f2"></div>
<div class="r" style="left:1014px;top:932px;width:24px;height:79px;background:#daeef3"></div>
<div class="r" style="left:1039px;top:932px;width:24px;height:79px;background:#f2f2f2"></div>
<div class="r" style="left:1064px;top:932px;width:24px;height:79px;background:#daeef3"></div>
<div class="r" style="left:1089px;top:932px;width:24px;height:79px;background:#f2f2f2"></div>
<div class="r" style="left:1114px;top:932px;width:24px;height:79px;background:#daeef3"></div>
<div class="r" style="left:1139px;top:932px;width:24px;height:79px;background:#f2f2f2"></div>
<div class="r" style="left:1164px;top:932px;width:24px;height:79px;background:#daeef3"></div>
<div class="r" style="left:1189px;top:932px;width:24px;height:79px;background:#f2f2f2"></div>
<div class="r" style="left:1214px;top:932px;width:24px;height:79px;background:#daeef3"></div>
<div class="r" style="left:1239px;top:932px;width:24px;height:79px;background:#f2f2f2"></div>
<div class="r" style="left:1264px;top:932px;width:23px;height:79px;background:#daeef3"></div>
<div class="r" style="left:1290px;top:932px;width:21px;height:78px;background:#e4dfec"></div>
<div class="r" style="left:1312px;top:932px;width:69px;height:78px;background:#ccc0da"></div>
<div class="r" style="left:1px;top:1012px;width:25px;height:78px;background:#e4dfec"></div>
<div class="r" style="left:29px;top:1012px;width:167px;height:78px;background:#ccc0da"></div>
<div class="r" style="left:198px;top:1012px;width:306px;height:78px;background:#e4dfec"></div>
<div class="r" style="left:507px;top:1012px;width:23px;height:79px;background:#daeef3"></div>
<div class="r" style="left:531px;top:1012px;width:24px;height:79px;background:#f2f2f2"></div>
<div class="r" style="left:556px;top:1012px;width:24px;height:79px;background:#daeef3"></div>
<div class="r" style="left:581px;top:1012px;width:24px;height:79px;background:#f2f2f2"></div>
<div class="r" style="left:606px;top:1012px;width:24px;height:79px;background:#daeef3"></div>
<div class="r" style="left:631px;top:1012px;width:24px;height:79px;background:#f2f2f2"></div>
<div class="r" style="left:656px;top:1012px;width:32px;height:79px;background:#daeef3"></div>
<div class="r" style="left:689px;top:1012px;width:24px;height:79px;background:#f2f2f2"></div>
<div class="r" style="left:714px;top:1012px;width:24px;height:79px;background:#daeef3"></div>
<div class="r" style="left:739px;top:1012px;width:24px;height:79px;background:#f2f2f2"></div>
<div class="r" style="left:764px;top:1012px;width:24px;height:79px;background:#daeef3"></div>
<div class="r" style="left:789px;top:1012px;width:24px;height:79px;background:#f2f2f2"></div>
<div class="r" style="left:814px;top:1012px;width:24px;height:79px;background:#daeef3"></div>
<div class="r" style="left:839px;top:1012px;width:24px;height:79px;background:#f2f2f2"></div>
<div class="r" style="left:864px;top:1012px;width:24px;height:79px;background:#daeef3"></div>
<div class="r" style="left:889px;top:1012px;width:24px;height:79px;background:#f2f2f2"></div>
<div class="r" style="left:914px;top:1012px;width:24px;height:79px;background:#daeef3"></div>
<div class="r" style="left:939px;top:1012px;width:24px;height:79px;background:#f2f2f2"></div>
<div class="r" style="left:964px;top:1012px;width:24px;height:79px;background:#daeef3"></div>
<div class="r" style="left:989px;top:1012px;width:24px;height:79px;background:#f2f2f2"></div>
<div class="r" style="left:1014px;top:1012px;width:24px;height:79px;background:#daeef3"></div>
<div class="r" style="left:1039px;top:1012px;width:24px;height:79px;background:#f2f2f2"></div>
<div class="r" style="left:1064px;top:1012px;width:24px;height:79px;background:#daeef3"></div>
<div class="r" style="left:1089px;top:1012px;width:24px;height:79px;background:#f2f2f2"></div>
<div class="r" style="left:1114px;top:1012px;width:24px;height:79px;background:#daeef3"></div>
<div class="r" style="left:1139px;top:1012px;width:24px;height:79px;background:#f2f2f2"></div>
<div class="r" style="left:1164px;top:1012px;width:24px;height:79px;background:#daeef3"></div>
<div class="r" style="left:1189px;top:1012px;width:24px;height:79px;background:#f2f2f2"></div>
<div class="r" style="left:1214px;top:1012px;width:24px;height:79px;background:#daeef3"></div>
<div class="r" style="left:1239px;top:1012px;width:24px;height:79px;background:#f2f2f2"></div>
<div class="r" style="left:1264px;top:1012px;width:23px;height:79px;background:#daeef3"></div>
<div class="r" style="left:1290px;top:1012px;width:21px;height:78px;background:#e4dfec"></div>
<div class="r" style="left:1312px;top:1012px;width:69px;height:78px;background:#ccc0da"></div>
<div class="r" style="left:1px;top:1092px;width:25px;height:78px;background:#e4dfec"></div>
<div class="r" style="left:29px;top:1092px;width:167px;height:78px;background:#ccc0da"></div>
<div class="r" style="left:198px;top:1092px;width:306px;height:78px;background:#e4dfec"></div>
<div class="r" style="left:507px;top:1092px;width:23px;height:79px;background:#daeef3"></div>
<div class="r" style="left:531px;top:1092px;width:24px;height:79px;background:#f2f2f2"></div>
<div class="r" style="left:556px;top:1092px;width:24px;height:79px;background:#daeef3"></div>
<div class="r" style="left:581px;top:1092px;width:24px;height:79px;background:#f2f2f2"></div>
<div class="r" style="left:606px;top:1092px;width:24px;height:79px;background:#daeef3"></div>
<div class="r" style="left:631px;top:1092px;width:24px;height:79px;background:#f2f2f2"></div>
<div class="r" style="left:656px;top:1092px;width:32px;height:79px;background:#daeef3"></div>
<div class="r" style="left:689px;top:1092px;width:24px;height:79px;background:#f2f2f2"></div>
<div class="r" style="left:714px;top:1092px;width:24px;height:79px;background:#daeef3"></div>
<div class="r" style="left:739px;top:1092px;width:24px;height:79px;background:#f2f2f2"></div>
<div class="r" style="left:764px;top:1092px;width:24px;height:79px;background:#daeef3"></div>
<div class="r" style="left:789px;top:1092px;width:24px;height:79px;background:#f2f2f2"></div>
<div class="r" style="left:814px;top:1092px;width:24px;height:79px;background:#daeef3"></div>
<div class="r" style="left:839px;top:1092px;width:24px;height:79px;background:#f2f2f2"></div>
<div class="r" style="left:864px;top:1092px;width:24px;height:79px;background:#daeef3"></div>
<div class="r" style="left:889px;top:1092px;width:24px;height:79px;background:#f2f2f2"></div>
<div class="r" style="left:914px;top:1092px;width:24px;height:79px;background:#daeef3"></div>
<div class="r" style="left:939px;top:1092px;width:24px;height:79px;background:#f2f2f2"></div>
<div class="r" style="left:964px;top:1092px;width:24px;height:79px;background:#daeef3"></div>
<div class="r" style="left:989px;top:1092px;width:24px;height:79px;background:#f2f2f2"></div>
<div class="r" style="left:1014px;top:1092px;width:24px;height:79px;background:#daeef3"></div>
<div class="r" style="left:1039px;top:1092px;width:24px;height:79px;background:#f2f2f2"></div>
<div class="r" style="left:1064px;top:1092px;width:24px;height:79px;background:#daeef3"></div>
<div class="r" style="left:1089px;top:1092px;width:24px;height:79px;background:#f2f2f2"></div>
<div class="r" style="left:1114px;top:1092px;width:24px;height:79px;background:#daeef3"></div>
<div class="r" style="left:1139px;top:1092px;width:24px;height:79px;background:#f2f2f2"></div>
<div class="r" style="left:1164px;top:1092px;width:24px;height:79px;background:#daeef3"></div>
<div class="r" style="left:1189px;top:1092px;width:24px;height:79px;background:#f2f2f2"></div>
<div class="r" style="left:1214px;top:1092px;width:24px;height:79px;background:#daeef3"></div>
<div class="r" style="left:1239px;top:1092px;width:24px;height:79px;background:#f2f2f2"></div>
<div class="r" style="left:1264px;top:1092px;width:23px;height:79px;background:#daeef3"></div>
<div class="r" style="left:1290px;top:1092px;width:21px;height:78px;background:#e4dfec"></div>
<div class="r" style="left:1312px;top:1092px;width:69px;height:78px;background:#ccc0da"></div>
<div class="r" style="left:1px;top:1172px;width:25px;height:78px;background:#e4dfec"></div>
<div class="r" style="left:29px;top:1172px;width:167px;height:78px;background:#ccc0da"></div>
<div class="r" style="left:198px;top:1172px;width:306px;height:78px;background:#e4dfec"></div>
<div class="r" style="left:507px;top:1172px;width:23px;height:79px;background:#daeef3"></div>
<div class="r" style="left:531px;top:1172px;width:24px;height:79px;background:#f2f2f2"></div>
<div class="r" style="left:556px;top:1172px;width:24px;height:79px;background:#daeef3"></div>
<div class="r" style="left:581px;top:1172px;width:24px;height:79px;background:#f2f2f2"></div>
<div class="r" style="left:606px;top:1172px;width:24px;height:79px;background:#daeef3"></div>
<div class="r" style="left:631px;top:1172px;width:24px;height:79px;background:#f2f2f2"></div>
<div class="r" style="left:656px;top:1172px;width:32px;height:79px;background:#daeef3"></div>
<div class="r" style="left:689px;top:1172px;width:24px;height:79px;background:#f2f2f2"></div>
<div class="r" style="left:714px;top:1172px;width:24px;height:79px;background:#daeef3"></div>
<div class="r" style="left:739px;top:1172px;width:24px;height:79px;background:#f2f2f2"></div>
<div class="r" style="left:764px;top:1172px;width:24px;height:79px;background:#daeef3"></div>
<div class="r" style="left:789px;top:1172px;width:24px;height:79px;background:#f2f2f2"></div>
<div class="r" style="left:814px;top:1172px;width:24px;height:79px;background:#daeef3"></div>
<div class="r" style="left:839px;top:1172px;width:24px;height:79px;background:#f2f2f2"></div>
<div class="r" style="left:864px;top:1172px;width:24px;height:79px;background:#daeef3"></div>
<div class="r" style="left:889px;top:1172px;width:24px;height:79px;background:#f2f2f2"></div>
<div class="r" style="left:914px;top:1172px;width:24px;height:79px;background:#daeef3"></div>
<div class="r" style="left:939px;top:1172px;width:24px;height:79px;background:#f2f2f2"></div>
<div class="r" style="left:964px;top:1172px;width:24px;height:79px;background:#daeef3"></div>
<div class="r" style="left:989px;top:1172px;width:24px;height:79px;background:#f2f2f2"></div>
<div class="r" style="left:1014px;top:1172px;width:24px;height:79px;background:#daeef3"></div>
<div class="r" style="left:1039px;top:1172px;width:24px;height:79px;background:#f2f2f2"></div>
<div class="r" style="left:1064px;top:1172px;width:24px;height:79px;background:#daeef3"></div>
<div class="r" style="left:1089px;top:1172px;width:24px;height:79px;background:#f2f2f2"></div>
<div class="r" style="left:1114px;top:1172px;width:24px;height:79px;background:#daeef3"></div>
<div class="r" style="left:1139px;top:1172px;width:24px;height:79px;background:#f2f2f2"></div>
<div class="r" style="left:1164px;top:1172px;width:24px;height:79px;background:#daeef3"></div>
<div class="r" style="left:1189px;top:1172px;width:24px;height:79px;background:#f2f2f2"></div>
<div class="r" style="left:1214px;top:1172px;width:24px;height:79px;background:#daeef3"></div>
<div class="r" style="left:1239px;top:1172px;width:24px;height:79px;background:#f2f2f2"></div>
<div class="r" style="left:1264px;top:1172px;width:23px;height:79px;background:#daeef3"></div>
<div class="r" style="left:1290px;top:1172px;width:21px;height:78px;background:#e4dfec"></div>
<div class="r" style="left:1312px;top:1172px;width:69px;height:78px;background:#ccc0da"></div>
<div class="r" style="left:1px;top:1252px;width:25px;height:78px;background:#e4dfec"></div>
<div class="r" style="left:29px;top:1252px;width:167px;height:78px;background:#ccc0da"></div>
<div class="r" style="left:198px;top:1252px;width:306px;height:78px;background:#e4dfec"></div>
<div class="r" style="left:507px;top:1252px;width:23px;height:79px;background:#daeef3"></div>
<div class="r" style="left:531px;top:1252px;width:24px;height:79px;background:#f2f2f2"></div>
<div class="r" style="left:556px;top:1252px;width:24px;height:79px;background:#daeef3"></div>
<div class="r" style="left:581px;top:1252px;width:24px;height:79px;background:#f2f2f2"></div>
<div class="r" style="left:606px;top:1252px;width:24px;height:79px;background:#daeef3"></div>
<div class="r" style="left:631px;top:1252px;width:24px;height:79px;background:#f2f2f2"></div>
<div class="r" style="left:656px;top:1252px;width:32px;height:79px;background:#daeef3"></div>
<div class="r" style="left:689px;top:1252px;width:24px;height:79px;background:#f2f2f2"></div>
<div class="r" style="left:714px;top:1252px;width:24px;height:79px;background:#daeef3"></div>
<div class="r" style="left:739px;top:1252px;width:24px;height:79px;background:#f2f2f2"></div>
<div class="r" style="left:764px;top:1252px;width:24px;height:79px;background:#daeef3"></div>
<div class="r" style="left:789px;top:1252px;width:24px;height:79px;background:#f2f2f2"></div>
<div class="r" style="left:814px;top:1252px;width:24px;height:79px;background:#daeef3"></div>
<div class="r" style="left:839px;top:1252px;width:24px;height:79px;background:#f2f2f2"></div>
<div class="r" style="left:864px;top:1252px;width:24px;height:79px;background:#daeef3"></div>
<div class="r" style="left:889px;top:1252px;width:24px;height:79px;background:#f2f2f2"></div>
<div class="r" style="left:914px;top:1252px;width:24px;height:79px;background:#daeef3"></div>
<div class="r" style="left:939px;top:1252px;width:24px;height:79px;background:#f2f2f2"></div>
<div class="r" style="left:964px;top:1252px;width:24px;height:79px;background:#daeef3"></div>
<div class="r" style="left:989px;top:1252px;width:24px;height:79px;background:#f2f2f2"></div>
<div class="r" style="left:1014px;top:1252px;width:24px;height:79px;background:#daeef3"></div>
<div class="r" style="left:1039px;top:1252px;width:24px;height:79px;background:#f2f2f2"></div>
<div class="r" style="left:1064px;top:1252px;width:24px;height:79px;background:#daeef3"></div>
<div class="r" style="left:1089px;top:1252px;width:24px;height:79px;background:#f2f2f2"></div>
<div class="r" style="left:1114px;top:1252px;width:24px;height:79px;background:#daeef3"></div>
<div class="r" style="left:1139px;top:1252px;width:24px;height:79px;background:#f2f2f2"></div>
<div class="r" style="left:1164px;top:1252px;width:24px;height:79px;background:#daeef3"></div>
<div class="r" style="left:1189px;top:1252px;width:24px;height:79px;background:#f2f2f2"></div>
<div class="r" style="left:1214px;top:1252px;width:24px;height:79px;background:#daeef3"></div>
<div class="r" style="left:1239px;top:1252px;width:24px;height:79px;background:#f2f2f2"></div>
<div class="r" style="left:1264px;top:1252px;width:23px;height:79px;background:#daeef3"></div>
<div class="r" style="left:1290px;top:1252px;width:21px;height:78px;background:#e4dfec"></div>
<div class="r" style="left:1312px;top:1252px;width:69px;height:78px;background:#ccc0da"></div>
<div class="r" style="left:1px;top:1332px;width:25px;height:78px;background:#e4dfec"></div>
<div class="r" style="left:29px;top:1332px;width:167px;height:78px;background:#ccc0da"></div>
<div class="r" style="left:198px;top:1332px;width:306px;height:78px;background:#e4dfec"></div>
<div class="r" style="left:507px;top:1332px;width:23px;height:79px;background:#daeef3"></div>
<div class="r" style="left:531px;top:1332px;width:24px;height:79px;background:#f2f2f2"></div>
<div class="r" style="left:556px;top:1332px;width:24px;height:79px;background:#daeef3"></div>
<div class="r" style="left:581px;top:1332px;width:24px;height:79px;background:#f2f2f2"></div>
<div class="r" style="left:606px;top:1332px;width:24px;height:79px;background:#daeef3"></div>
<div class="r" style="left:631px;top:1332px;width:24px;height:79px;background:#f2f2f2"></div>
<div class="r" style="left:656px;top:1332px;width:32px;height:79px;background:#daeef3"></div>
<div class="r" style="left:689px;top:1332px;width:24px;height:79px;background:#f2f2f2"></div>
<div class="r" style="left:714px;top:1332px;width:24px;height:79px;background:#daeef3"></div>
<div class="r" style="left:739px;top:1332px;width:24px;height:79px;background:#f2f2f2"></div>
<div class="r" style="left:764px;top:1332px;width:24px;height:79px;background:#daeef3"></div>
<div class="r" style="left:789px;top:1332px;width:24px;height:79px;background:#f2f2f2"></div>
<div class="r" style="left:814px;top:1332px;width:24px;height:79px;background:#daeef3"></div>
<div class="r" style="left:839px;top:1332px;width:24px;height:79px;background:#f2f2f2"></div>
<div class="r" style="left:864px;top:1332px;width:24px;height:79px;background:#daeef3"></div>
<div class="r" style="left:889px;top:1332px;width:24px;height:79px;background:#f2f2f2"></div>
<div class="r" style="left:914px;top:1332px;width:24px;height:79px;background:#daeef3"></div>
<div class="r" style="left:939px;top:1332px;width:24px;height:79px;background:#f2f2f2"></div>
<div class="r" style="left:964px;top:1332px;width:24px;height:79px;background:#daeef3"></div>
<div class="r" style="left:989px;top:1332px;width:24px;height:79px;background:#f2f2f2"></div>
<div class="r" style="left:1014px;top:1332px;width:24px;height:79px;background:#daeef3"></div>
<div class="r" style="left:1039px;top:1332px;width:24px;height:79px;background:#f2f2f2"></div>
<div class="r" style="left:1064px;top:1332px;width:24px;height:79px;background:#daeef3"></div>
<div class="r" style="left:1089px;top:1332px;width:24px;height:79px;background:#f2f2f2"></div>
<div class="r" style="left:1114px;top:1332px;width:24px;height:79px;background:#daeef3"></div>
<div class="r" style="left:1139px;top:1332px;width:24px;height:79px;background:#f2f2f2"></div>
<div class="r" style="left:1164px;top:1332px;width:24px;height:79px;background:#daeef3"></div>
<div class="r" style="left:1189px;top:1332px;width:24px;height:79px;background:#f2f2f2"></div>
<div class="r" style="left:1214px;top:1332px;width:24px;height:79px;background:#daeef3"></div>
<div class="r" style="left:1239px;top:1332px;width:24px;height:79px;background:#f2f2f2"></div>
<div class="r" style="left:1264px;top:1332px;width:23px;height:79px;background:#daeef3"></div>
<div class="r" style="left:1290px;top:1332px;width:21px;height:78px;background:#e4dfec"></div>
<div class="r" style="left:1312px;top:1332px;width:69px;height:78px;background:#ccc0da"></div>
<div class="r" style="left:1px;top:1412px;width:25px;height:78px;background:#e4dfec"></div>
<div class="r" style="left:29px;top:1412px;width:167px;height:78px;background:#ccc0da"></div>
<div class="r" style="left:198px;top:1412px;width:306px;height:78px;background:#e4dfec"></div>
<div class="r" style="left:507px;top:1412px;width:23px;height:79px;background:#daeef3"></div>
<div class="r" style="left:531px;top:1412px;width:24px;height:79px;background:#f2f2f2"></div>
<div class="r" style="left:556px;top:1412px;width:24px;height:79px;background:#daeef3"></div>
<div class="r" style="left:581px;top:1412px;width:24px;height:79px;background:#f2f2f2"></div>
<div class="r" style="left:606px;top:1412px;width:24px;height:79px;background:#daeef3"></div>
<div class="r" style="left:631px;top:1412px;width:24px;height:79px;background:#f2f2f2"></div>
<div class="r" style="left:656px;top:1412px;width:32px;height:79px;background:#daeef3"></div>
<div class="r" style="left:689px;top:1412px;width:24px;height:79px;background:#f2f2f2"></div>
<div class="r" style="left:714px;top:1412px;width:24px;height:79px;background:#daeef3"></div>
<div class="r" style="left:739px;top:1412px;width:24px;height:79px;background:#f2f2f2"></div>
<div class="r" style="left:764px;top:1412px;width:24px;height:79px;background:#daeef3"></div>
<div class="r" style="left:789px;top:1412px;width:24px;height:79px;background:#f2f2f2"></div>
<div class="r" style="left:814px;top:1412px;width:24px;height:79px;background:#daeef3"></div>
<div class="r" style="left:839px;top:1412px;width:24px;height:79px;background:#f2f2f2"></div>
<div class="r" style="left:864px;top:1412px;width:24px;height:79px;background:#daeef3"></div>
<div class="r" style="left:889px;top:1412px;width:24px;height:79px;background:#f2f2f2"></div>
<div class="r" style="left:914px;top:1412px;width:24px;height:79px;background:#daeef3"></div>
<div class="r" style="left:939px;top:1412px;width:24px;height:79px;background:#f2f2f2"></div>
<div class="r" style="left:964px;top:1412px;width:24px;height:79px;background:#daeef3"></div>
<div class="r" style="left:989px;top:1412px;width:24px;height:79px;background:#f2f2f2"></div>
<div class="r" style="left:1014px;top:1412px;width:24px;height:79px;background:#daeef3"></div>
<div class="r" style="left:1039px;top:1412px;width:24px;height:79px;background:#f2f2f2"></div>
<div class="r" style="left:1064px;top:1412px;width:24px;height:79px;background:#daeef3"></div>
<div class="r" style="left:1089px;top:1412px;width:24px;height:79px;background:#f2f2f2"></div>
<div class="r" style="left:1114px;top:1412px;width:24px;height:79px;background:#daeef3"></div>
<div class="r" style="left:1139px;top:1412px;width:24px;height:79px;background:#f2f2f2"></div>
<div class="r" style="left:1164px;top:1412px;width:24px;height:79px;background:#daeef3"></div>
<div class="r" style="left:1189px;top:1412px;width:24px;height:79px;background:#f2f2f2"></div>
<div class="r" style="left:1214px;top:1412px;width:24px;height:79px;background:#daeef3"></div>
<div class="r" style="left:1239px;top:1412px;width:24px;height:79px;background:#f2f2f2"></div>
<div class="r" style="left:1264px;top:1412px;width:23px;height:79px;background:#daeef3"></div>
<div class="r" style="left:1290px;top:1412px;width:21px;height:78px;background:#e4dfec"></div>
<div class="r" style="left:1312px;top:1412px;width:69px;height:78px;background:#ccc0da"></div>
<div class="r" style="left:1px;top:1492px;width:25px;height:78px;background:#e4dfec"></div>
<div class="r" style="left:29px;top:1492px;width:167px;height:78px;background:#ccc0da"></div>
<div class="r" style="left:198px;top:1492px;width:306px;height:78px;background:#e4dfec"></div>
<div class="r" style="left:507px;top:1492px;width:23px;height:79px;background:#daeef3"></div>
<div class="r" style="left:531px;top:1492px;width:24px;height:79px;background:#f2f2f2"></div>
<div class="r" style="left:556px;top:1492px;width:24px;height:79px;background:#daeef3"></div>
<div class="r" style="left:581px;top:1492px;width:24px;height:79px;background:#f2f2f2"></div>
<div class="r" style="left:606px;top:1492px;width:24px;height:79px;background:#daeef3"></div>
<div class="r" style="left:631px;top:1492px;width:24px;height:79px;background:#f2f2f2"></div>
<div class="r" style="left:656px;top:1492px;width:32px;height:79px;background:#daeef3"></div>
<div class="r" style="left:689px;top:1492px;width:24px;height:79px;background:#f2f2f2"></div>
<div class="r" style="left:714px;top:1492px;width:24px;height:79px;background:#daeef3"></div>
<div class="r" style="left:739px;top:1492px;width:24px;height:79px;background:#f2f2f2"></div>
<div class="r" style="left:764px;top:1492px;width:24px;height:79px;background:#daeef3"></div>
<div class="r" style="left:789px;top:1492px;width:24px;height:79px;background:#f2f2f2"></div>
<div class="r" style="left:814px;top:1492px;width:24px;height:79px;background:#daeef3"></div>
<div class="r" style="left:839px;top:1492px;width:24px;height:79px;background:#f2f2f2"></div>
<div class="r" style="left:864px;top:1492px;width:24px;height:79px;background:#daeef3"></div>
<div class="r" style="left:889px;top:1492px;width:24px;height:79px;background:#f2f2f2"></div>
<div class="r" style="left:914px;top:1492px;width:24px;height:79px;background:#daeef3"></div>
<div class="r" style="left:939px;top:1492px;width:24px;height:79px;background:#f2f2f2"></div>
<div class="r" style="left:964px;top:1492px;width:24px;height:79px;background:#daeef3"></div>
<div class="r" style="left:989px;top:1492px;width:24px;height:79px;background:#f2f2f2"></div>
<div class="r" style="left:1014px;top:1492px;width:24px;height:79px;background:#daeef3"></div>
<div class="r" style="left:1039px;top:1492px;width:24px;height:79px;background:#f2f2f2"></div>
<div class="r" style="left:1064px;top:1492px;width:24px;height:79px;background:#daeef3"></div>
<div class="r" style="left:1089px;top:1492px;width:24px;height:79px;background:#f2f2f2"></div>
<div class="r" style="left:1114px;top:1492px;width:24px;height:79px;background:#daeef3"></div>
<div class="r" style="left:1139px;top:1492px;width:24px;height:79px;background:#f2f2f2"></div>
<div class="r" style="left:1164px;top:1492px;width:24px;height:79px;background:#daeef3"></div>
<div class="r" style="left:1189px;top:1492px;width:24px;height:79px;background:#f2f2f2"></div>
<div class="r" style="left:1214px;top:1492px;width:24px;height:79px;background:#daeef3"></div>
<div class="r" style="left:1239px;top:1492px;width:24px;height:79px;background:#f2f2f2"></div>
<div class="r" style="left:1264px;top:1492px;width:23px;height:79px;background:#daeef3"></div>
<div class="r" style="left:1290px;top:1492px;width:21px;height:78px;background:#e4dfec"></div>
<div class="r" style="left:1312px;top:1492px;width:69px;height:78px;background:#ccc0da"></div>
<div class="r" style="left:1px;top:1572px;width:25px;height:78px;background:#e4dfec"></div>
<div class="r" style="left:29px;top:1572px;width:167px;height:78px;background:#ccc0da"></div>
<div class="r" style="left:198px;top:1572px;width:306px;height:78px;background:#e4dfec"></div>
<div class="r" style="left:507px;top:1572px;width:23px;height:79px;background:#daeef3"></div>
<div class="r" style="left:531px;top:1572px;width:24px;height:79px;background:#f2f2f2"></div>
<div class="r" style="left:556px;top:1572px;width:24px;height:79px;background:#daeef3"></div>
<div class="r" style="left:581px;top:1572px;width:24px;height:79px;background:#f2f2f2"></div>
<div class="r" style="left:606px;top:1572px;width:24px;height:79px;background:#daeef3"></div>
<div class="r" style="left:631px;top:1572px;width:24px;height:79px;background:#f2f2f2"></div>
<div class="r" style="left:656px;top:1572px;width:32px;height:79px;background:#daeef3"></div>
<div class="r" style="left:689px;top:1572px;width:24px;height:79px;background:#f2f2f2"></div>
<div class="r" style="left:714px;top:1572px;width:24px;height:79px;background:#daeef3"></div>
<div class="r" style="left:739px;top:1572px;width:24px;height:79px;background:#f2f2f2"></div>
<div class="r" style="left:764px;top:1572px;width:24px;height:79px;background:#daeef3"></div>
<div class="r" style="left:789px;top:1572px;width:24px;height:79px;background:#f2f2f2"></div>
<div class="r" style="left:814px;top:1572px;width:24px;height:79px;background:#daeef3"></div>
<div class="r" style="left:839px;top:1572px;width:24px;height:79px;background:#f2f2f2"></div>
<div class="r" style="left:864px;top:1572px;width:24px;height:79px;background:#daeef3"></div>
<div class="r" style="left:889px;top:1572px;width:24px;height:79px;background:#f2f2f2"></div>
<div class="r" style="left:914px;top:1572px;width:24px;height:79px;background:#daeef3"></div>
<div class="r" style="left:939px;top:1572px;width:24px;height:79px;background:#f2f2f2"></div>
<div class="r" style="left:964px;top:1572px;width:24px;height:79px;background:#daeef3"></div>
<div class="r" style="left:989px;top:1572px;width:24px;height:79px;background:#f2f2f2"></div>
<div class="r" style="left:1014px;top:1572px;width:24px;height:79px;background:#daeef3"></div>
<div class="r" style="left:1039px;top:1572px;width:24px;height:79px;background:#f2f2f2"></div>
<div class="r" style="left:1064px;top:1572px;width:24px;height:79px;background:#daeef3"></div>
<div class="r" style="left:1089px;top:1572px;width:24px;height:79px;background:#f2f2f2"></div>
<div class="r" style="left:1114px;top:1572px;width:24px;height:79px;background:#daeef3"></div>
<div class="r" style="left:1139px;top:1572px;width:24px;height:79px;background:#f2f2f2"></div>
<div class="r" style="left:1164px;top:1572px;width:24px;height:79px;background:#daeef3"></div>
<div class="r" style="left:1189px;top:1572px;width:24px;height:79px;background:#f2f2f2"></div>
<div class="r" style="left:1214px;top:1572px;width:24px;height:79px;background:#daeef3"></div>
<div class="r" style="left:1239px;top:1572px;width:24px;height:79px;background:#f2f2f2"></div>
<div class="r" style="left:1264px;top:1572px;width:23px;height:79px;background:#daeef3"></div>
<div class="r" style="left:1290px;top:1572px;width:21px;height:78px;background:#e4dfec"></div>
<div class="r" style="left:1312px;top:1572px;width:69px;height:78px;background:#ccc0da"></div>
<!--TEXT-->
<svg id="logo" viewBox="1 1 196 87" width="196" height="87">
<defs>
<radialGradient id="gK" cx="62%" cy="56%" r="70%" fx="68%" fy="26%"><stop offset="0" stop-color="#ff3a3a"/><stop offset="0.55" stop-color="#d01414"/><stop offset="1" stop-color="#5e0606"/></radialGradient>
<radialGradient id="gE" cx="62%" cy="56%" r="70%" fx="68%" fy="26%"><stop offset="0" stop-color="#5a90e0"/><stop offset="0.55" stop-color="#1c4fb4"/><stop offset="1" stop-color="#081e60"/></radialGradient>
<radialGradient id="gT" cx="62%" cy="56%" r="70%" fx="68%" fy="26%"><stop offset="0" stop-color="#ffbe40"/><stop offset="0.55" stop-color="#e29a1e"/><stop offset="1" stop-color="#7a4c08"/></radialGradient>
<radialGradient id="gQ" cx="62%" cy="56%" r="70%" fx="68%" fy="26%"><stop offset="0" stop-color="#48a848"/><stop offset="0.55" stop-color="#0e7c1c"/><stop offset="1" stop-color="#04400a"/></radialGradient>
<radialGradient id="gU" cx="62%" cy="56%" r="70%" fx="68%" fy="26%"><stop offset="0" stop-color="#78baf0"/><stop offset="0.55" stop-color="#3686d6"/><stop offset="1" stop-color="#164488"/></radialGradient>
<radialGradient id="gA" cx="62%" cy="56%" r="70%" fx="68%" fy="26%"><stop offset="0" stop-color="#f0a0f6"/><stop offset="0.55" stop-color="#c862e0"/><stop offset="1" stop-color="#6c2884"/></radialGradient>
<radialGradient id="g2" cx="62%" cy="56%" r="70%" fx="68%" fy="26%"><stop offset="0" stop-color="#d0a248"/><stop offset="0.55" stop-color="#98690f"/><stop offset="1" stop-color="#4e3204"/></radialGradient>
<filter id="fat" x="-10%" y="-10%" width="120%" height="120%"><feMorphology operator="dilate" radius="1.0 0.05"/></filter>
<filter id="fat2" x="-10%" y="-10%" width="120%" height="120%"><feMorphology operator="dilate" radius="1 0.05"/></filter>
<filter id="bl" x="-5%" y="-5%" width="110%" height="110%"><feGaussianBlur stdDeviation="0.45"/></filter>
</defs>
<g filter="url(#bl)">
<ellipse cx="12.1" cy="42.05" rx="10.75" ry="24.0" fill="url(#gK)"/>
<ellipse cx="30.9" cy="42.6" rx="11.9" ry="24.3" fill="url(#gE)"/>
<ellipse cx="50.2" cy="43.0" rx="11.2" ry="24.4" fill="url(#gT)"/>
<ellipse cx="69.1" cy="42.0" rx="11.3" ry="23.5" fill="url(#gQ)"/>
<ellipse cx="87.5" cy="42.5" rx="11.7" ry="23.6" fill="url(#gU)"/>
<ellipse cx="106.9" cy="43.1" rx="11.6" ry="23.6" fill="url(#gA)"/>
<ellipse cx="128.35" cy="44.25" rx="14.2" ry="24.1" fill="url(#g2)"/>
<g font-family="Liberation Sans, sans-serif" font-weight="bold" font-size="46.0" fill="#fff">
<g filter="url(#fat)"><text transform="translate(5.50,59.00) scale(0.479,1.036)">K</text></g>
<g filter="url(#fat)"><text transform="translate(25.50,57.40) scale(0.398,0.995)">E</text></g>
<g filter="url(#fat)"><text transform="translate(44.50,57.70) scale(0.431,0.980)">T</text></g>
<g filter="url(#fat2)"><text transform="translate(63.80,58.90) scale(0.346,1.025)">Q</text></g>
<g filter="url(#fat2)"><text transform="translate(82.60,59.03) scale(0.452,1.031)">U</text></g>
<g filter="url(#fat)"><text transform="translate(100.20,59.90) scale(0.452,1.049)">A</text></g>
<g filter="url(#fat2)"><text transform="translate(121.30,61.50) scale(0.540,1.074)">2</text></g>
</g>
<polygon points="148,18 189,18 192.9,23.4 192.9,38.85 148,38.85" fill="#ea1c24"/>
<text transform="translate(149.0,36.6) skewX(-6) scale(0.40,1)" font-family="Liberation Sans, sans-serif" font-weight="bold" font-style="italic" font-size="22" fill="#fff" textLength="93" lengthAdjust="spacing">FORUM</text>
<text x="1.2" y="82.5" font-family="DejaVu Sans, sans-serif" font-size="15.8" fill="#000" stroke="#000" stroke-width="0.25" textLength="191.8" lengthAdjust="spacingAndGlyphs">Trang kết quả xổ số lớn nhất Việt Nam</text>
</g>
</svg>
<div class="t b" style="left:586.70px;top:6px;font-size:13.3px;color:#e26b0a"><span style="transform:scaleX(0.9274)">BẢNG THỐNG KÊ PHONG ĐỘ ACE THAM GIA TOPIC 36 SỐ KHUNG 5</span></div>
<div class="t b" style="left:699.00px;top:51px;font-size:24.7px;color:#002060"><span style="transform:scaleX(0.9077)">THÁNG</span></div>
<div class="t b" style="left:787.80px;top:51px;font-size:24.7px;color:#002060"><span style="transform:scaleX(1.0449)">10/2024</span></div>
<div class="t b" style="left:7.10px;top:101px;font-size:13.3px;color:#0070c0"><span style="transform:scaleX(0.8368)">TT</span></div>
<div class="t b" style="left:74.30px;top:101px;font-size:13.3px;color:#0070c0"><span style="transform:scaleX(0.9363)">THÀNH VIÊN</span></div>
<div class="t b" style="left:247.60px;top:101px;font-size:13.3px;color:#0070c0"><span style="transform:scaleX(0.9604)">DÀN ĐB NGÀY 06/10/2024 - KQ: 58</span></div>
<div class="t b" style="left:1305.00px;top:101px;font-size:13.3px;color:#0070c0"><span style="transform:scaleX(0.9037)">TỔNG KẾT</span></div>
<div class="t b" style="left:511.91px;top:90px;font-size:13.0px;color:#0070c0"><span style="transform:scaleX(0.9540)">01</span></div>
<div class="t b" style="left:511.91px;top:112px;font-size:13.0px;color:#ff0000"><span style="transform:scaleX(0.9540)">79</span></div>
<div class="t b" style="left:536.41px;top:90px;font-size:13.0px;color:#0070c0"><span style="transform:scaleX(0.9540)">02</span></div>
<div class="t b" style="left:536.41px;top:112px;font-size:13.0px;color:#ff0000"><span style="transform:scaleX(0.9540)">63</span></div>
<div class="t b" style="left:561.41px;top:90px;font-size:13.0px;color:#0070c0"><span style="transform:scaleX(0.9540)">03</span></div>
<div class="t b" style="left:561.41px;top:112px;font-size:13.0px;color:#ff0000"><span style="transform:scaleX(0.9540)">94</span></div>
<div class="t b" style="left:586.41px;top:90px;font-size:13.0px;color:#0070c0"><span style="transform:scaleX(0.9540)">04</span></div>
<div class="t b" style="left:586.41px;top:112px;font-size:13.0px;color:#ff0000"><span style="transform:scaleX(0.9540)">04</span></div>
<div class="t b" style="left:611.41px;top:90px;font-size:13.0px;color:#0070c0"><span style="transform:scaleX(0.9540)">05</span></div>
<div class="t b" style="left:611.41px;top:112px;font-size:13.0px;color:#ff0000"><span style="transform:scaleX(0.9540)">83</span></div>
<div class="t b" style="left:636.41px;top:90px;font-size:13.0px;color:#0070c0"><span style="transform:scaleX(0.9540)">06</span></div>
<div class="t b" style="left:636.41px;top:112px;font-size:13.0px;color:#ff0000"><span style="transform:scaleX(0.9540)">58</span></div>
<div class="t b" style="left:665.41px;top:90px;font-size:13.0px;color:#0070c0"><span style="transform:scaleX(0.9540)">07</span></div>
<div class="t b" style="left:694.41px;top:90px;font-size:13.0px;color:#0070c0"><span style="transform:scaleX(0.9540)">08</span></div>
<div class="t b" style="left:719.41px;top:90px;font-size:13.0px;color:#0070c0"><span style="transform:scaleX(0.9540)">09</span></div>
<div class="t b" style="left:744.41px;top:90px;font-size:13.0px;color:#0070c0"><span style="transform:scaleX(0.9540)">10</span></div>
<div class="t b" style="left:769.41px;top:90px;font-size:13.0px;color:#0070c0"><span style="transform:scaleX(1.0036)">11</span></div>
<div class="t b" style="left:794.41px;top:90px;font-size:13.0px;color:#0070c0"><span style="transform:scaleX(0.9540)">12</span></div>
<div class="t b" style="left:819.41px;top:90px;font-size:13.0px;color:#0070c0"><span style="transform:scaleX(0.9540)">13</span></div>
<div class="t b" style="left:844.41px;top:90px;font-size:13.0px;color:#0070c0"><span style="transform:scaleX(0.9540)">14</span></div>
<div class="t b" style="left:869.41px;top:90px;font-size:13.0px;color:#0070c0"><span style="transform:scaleX(0.9540)">15</span></div>
<div class="t b" style="left:894.41px;top:90px;font-size:13.0px;color:#0070c0"><span style="transform:scaleX(0.9540)">16</span></div>
<div class="t b" style="left:919.41px;top:90px;font-size:13.0px;color:#0070c0"><span style="transform:scaleX(0.9540)">17</span></div>
<div class="t b" style="left:944.41px;top:90px;font-size:13.0px;color:#0070c0"><span style="transform:scaleX(0.9540)">18</span></div>
<div class="t b" style="left:969.41px;top:90px;font-size:13.0px;color:#0070c0"><span style="transform:scaleX(0.9540)">19</span></div>
<div class="t b" style="left:994.41px;top:90px;font-size:13.0px;color:#0070c0"><span style="transform:scaleX(0.9540)">20</span></div>
<div class="t b" style="left:1019.41px;top:90px;font-size:13.0px;color:#0070c0"><span style="transform:scaleX(0.9540)">21</span></div>
<div class="t b" style="left:1044.41px;top:90px;font-size:13.0px;color:#0070c0"><span style="transform:scaleX(0.9540)">22</span></div>
<div class="t b" style="left:1069.41px;top:90px;font-size:13.0px;color:#0070c0"><span style="transform:scaleX(0.9540)">23</span></div>
<div class="t b" style="left:1094.41px;top:90px;font-size:13.0px;color:#0070c0"><span style="transform:scaleX(0.9540)">24</span></div>
<div class="t b" style="left:1119.41px;top:90px;font-size:13.0px;color:#0070c0"><span style="transform:scaleX(0.9540)">25</span></div>
<div class="t b" style="left:1144.41px;top:90px;font-size:13.0px;color:#0070c0"><span style="transform:scaleX(0.9540)">26</span></div>
<div class="t b" style="left:1169.41px;top:90px;font-size:13.0px;color:#0070c0"><span style="transform:scaleX(0.9540)">27</span></div>
<div class="t b" style="left:1194.41px;top:90px;font-size:13.0px;color:#0070c0"><span style="transform:scaleX(0.9540)">28</span></div>
<div class="t b" style="left:1219.41px;top:90px;font-size:13.0px;color:#0070c0"><span style="transform:scaleX(0.9540)">29</span></div>
<div class="t b" style="left:1244.41px;top:90px;font-size:13.0px;color:#0070c0"><span style="transform:scaleX(0.9540)">30</span></div>
<div class="t b" style="left:1269.41px;top:90px;font-size:13.0px;color:#0070c0"><span style="transform:scaleX(0.9540)">31</span></div>
<div class="t b" style="left:10.63px;top:163px;font-size:13.3px;color:#ff0000"><span style="transform:scaleX(0.9941)">1</span></div>
<div class="t b" style="left:63.10px;top:162px;font-size:17.4px;color:#984807"><span style="transform:scaleX(0.9299)">SieuChuoi35</span></div>
<div class="t n" style="left:208.90px;top:133px;font-size:13.0px;color:#7030a0"><span style="transform:scaleX(0.9923)">Dàn 36 Số: (07 -> 11/10)</span></div>
<div class="t n" style="left:209.30px;top:153px;font-size:13.0px;color:#7030a0"><span style="transform:scaleX(0.9423)">09 24 27 29 30 31 32 36 40 41 42 45 46 47 54 58 60</span></div>
<div class="t n" style="left:209.30px;top:173px;font-size:13.0px;color:#7030a0"><span style="transform:scaleX(0.9423)">62 65 67 68 69 72 74 75 76 78 81 83 87 89 91 92 94</span></div>
<div class="t n" style="left:209.30px;top:193px;font-size:13.0px;color:#7030a0"><span style="transform:scaleX(0.9562)">95 96</span></div>
<div class="t b" style="left:533.95px;top:163px;font-size:13.3px;color:#002060"><span style="transform:scaleX(0.9947)">N2</span></div>
<div class="t b" style="left:558.95px;top:163px;font-size:13.3px;color:#002060"><span style="transform:scaleX(0.9947)">N1</span></div>
<div class="t b" style="left:583.95px;top:163px;font-size:13.3px;color:#002060"><span style="transform:scaleX(0.9947)">N1</span></div>
<div class="t b" style="left:608.95px;top:163px;font-size:13.3px;color:#002060"><span style="transform:scaleX(0.9947)">N1</span></div>
<div class="t b" style="left:633.95px;top:163px;font-size:13.3px;color:#002060"><span style="transform:scaleX(0.9947)">N1</span></div>
<div class="t b" style="left:1296.03px;top:163px;font-size:13.3px;color:#0070c0"><span style="transform:scaleX(0.9941)">0</span></div>
<div class="t b" style="left:1343.93px;top:163px;font-size:13.3px;color:#0070c0"><span style="transform:scaleX(0.9941)">5</span></div>
<div class="t b" style="left:10.63px;top:243px;font-size:13.3px;color:#ff0000"><span style="transform:scaleX(0.9941)">2</span></div>
<div class="t b" style="left:88.54px;top:242px;font-size:17.4px;color:#984807"><span style="transform:scaleX(0.9024)">HaiSG</span></div>
<div class="t n" style="left:208.90px;top:213px;font-size:13.0px;color:#7030a0"><span style="transform:scaleX(0.9857)">Dàn 36 Số: (04 -> 08/10)</span></div>
<div class="t n" style="left:209.30px;top:233px;font-size:13.0px;color:#7030a0"><span style="transform:scaleX(0.9423)">22 23 24 26 27 29 32 33 34 36 37 39 42 43 44 46 47</span></div>
<div class="t n" style="left:209.30px;top:253px;font-size:13.0px;color:#7030a0"><span style="transform:scaleX(0.9423)">49 62 63 64 66 67 69 72 73 74 76 77 79 92 93 94 96</span></div>
<div class="t n" style="left:209.30px;top:273px;font-size:13.0px;color:#7030a0"><span style="transform:scaleX(0.9562)">97 99</span></div>
<div class="t b" style="left:509.45px;top:243px;font-size:13.3px;color:#002060"><span style="transform:scaleX(0.9947)">N1</span></div>
<div class="t b" style="left:533.95px;top:243px;font-size:13.3px;color:#002060"><span style="transform:scaleX(0.9947)">N1</span></div>
<div class="t b" style="left:558.95px;top:243px;font-size:13.3px;color:#002060"><span style="transform:scaleX(0.9947)">N1</span></div>
<div class="t b" style="left:1296.03px;top:243px;font-size:13.3px;color:#0070c0"><span style="transform:scaleX(0.9941)">0</span></div>
<div class="t b" style="left:1343.93px;top:243px;font-size:13.3px;color:#0070c0"><span style="transform:scaleX(0.9941)">3</span></div>
<div class="t b" style="left:10.63px;top:323px;font-size:13.3px;color:#ff0000"><span style="transform:scaleX(0.9941)">3</span></div>
<div class="t b" style="left:73.52px;top:322px;font-size:17.4px;color:#984807"><span style="transform:scaleX(0.9172)">VIPER12A</span></div>
<div class="t n" style="left:208.90px;top:293px;font-size:13.0px;color:#7030a0"><span style="transform:scaleX(0.9923)">Dàn 36 Số: (07 -> 11/10)</span></div>
<div class="t n" style="left:209.30px;top:313px;font-size:13.0px;color:#7030a0"><span style="transform:scaleX(0.9423)">04 14 24 36 39 42 44 47 51 52 54 57 60 61 62 63 64</span></div>
<div class="t n" style="left:209.30px;top:333px;font-size:13.0px;color:#7030a0"><span style="transform:scaleX(0.9423)">65 66 67 68 74 75 82 84 86 87 89 90 91 92 93 94 95</span></div>
<div class="t n" style="left:209.30px;top:353px;font-size:13.0px;color:#7030a0"><span style="transform:scaleX(0.9562)">96 97</span></div>
<div class="t b" style="left:509.45px;top:323px;font-size:13.3px;color:#002060"><span style="transform:scaleX(0.9947)">N1</span></div>
<div class="t b" style="left:533.95px;top:323px;font-size:13.3px;color:#002060"><span style="transform:scaleX(0.9947)">N1</span></div>
<div class="t b" style="left:633.95px;top:323px;font-size:13.3px;color:#002060"><span style="transform:scaleX(0.9947)">N4</span></div>
<div class="t b" style="left:1296.03px;top:323px;font-size:13.3px;color:#0070c0"><span style="transform:scaleX(0.9941)">0</span></div>
<div class="t b" style="left:1343.93px;top:323px;font-size:13.3px;color:#0070c0"><span style="transform:scaleX(0.9941)">3</span></div>
<div class="t b" style="left:10.63px;top:403px;font-size:13.3px;color:#ff0000"><span style="transform:scaleX(0.9941)">4</span></div>
<div class="t b" style="left:86.56px;top:402px;font-size:17.4px;color:#984807"><span style="transform:scaleX(0.9411)">Rauria</span></div>
<div class="t n" style="left:208.90px;top:373px;font-size:13.0px;color:#7030a0"><span style="transform:scaleX(0.9857)">Dàn 36 Số: (06 -> 10/10)</span></div>
<div class="t n" style="left:209.30px;top:393px;font-size:13.0px;color:#7030a0"><span style="transform:scaleX(0.9423)">31 32 34 35 36 37 38 39 41 42 43 45 46 47 48 49 61</span></div>
<div class="t n" style="left:209.30px;top:413px;font-size:13.0px;color:#7030a0"><span style="transform:scaleX(0.9423)">62 64 65 67 68 69 70 71 72 73 74 75 76 78 80 81 82</span></div>
<div class="t n" style="left:209.30px;top:433px;font-size:13.0px;color:#7030a0"><span style="transform:scaleX(0.9562)">84 87</span></div>
<div class="t b" style="left:509.45px;top:403px;font-size:13.3px;color:#002060"><span style="transform:scaleX(0.9947)">N1</span></div>
<div class="t b" style="left:533.95px;top:403px;font-size:13.3px;color:#002060"><span style="transform:scaleX(0.9947)">N1</span></div>
<div class="t b" style="left:608.95px;top:403px;font-size:13.3px;color:#002060"><span style="transform:scaleX(0.9947)">N3</span></div>
<div class="t b" style="left:1296.03px;top:403px;font-size:13.3px;color:#0070c0"><span style="transform:scaleX(0.9941)">0</span></div>
<div class="t b" style="left:1343.93px;top:403px;font-size:13.3px;color:#0070c0"><span style="transform:scaleX(0.9941)">3</span></div>
<div class="t b" style="left:10.63px;top:483px;font-size:13.3px;color:#ff0000"><span style="transform:scaleX(0.9941)">5</span></div>
<div class="t b" style="left:64.24px;top:482px;font-size:17.4px;color:#984807"><span style="transform:scaleX(0.9170)">nhungconso</span></div>
<div class="t n" style="left:208.90px;top:453px;font-size:13.0px;color:#7030a0"><span style="transform:scaleX(0.9857)">Dàn 36 Số: (06 -> 10/10)</span></div>
<div class="t n" style="left:209.30px;top:473px;font-size:13.0px;color:#7030a0"><span style="transform:scaleX(0.9453)">01 06 10 11 12 13 14 15 16 17 18 19 21 26 31 36 41</span></div>
<div class="t n" style="left:209.30px;top:493px;font-size:13.0px;color:#7030a0"><span style="transform:scaleX(0.9423)">46 51 56 60 61 62 63 64 65 66 67 68 69 71 76 81 86</span></div>
<div class="t n" style="left:209.30px;top:513px;font-size:13.0px;color:#7030a0"><span style="transform:scaleX(0.9562)">91 96</span></div>
<div class="t b" style="left:509.45px;top:483px;font-size:13.3px;color:#002060"><span style="transform:scaleX(0.9947)">N1</span></div>
<div class="t b" style="left:533.95px;top:483px;font-size:13.3px;color:#002060"><span style="transform:scaleX(0.9947)">N1</span></div>
<div class="t b" style="left:562.62px;top:483px;font-size:13.3px;color:#002060"><span style="transform:scaleX(0.9951)">N</span></div>
<div class="t b" style="left:608.95px;top:483px;font-size:13.3px;color:#002060"><span style="transform:scaleX(0.9947)">N2</span></div>
<div class="t b" style="left:1296.03px;top:483px;font-size:13.3px;color:#0070c0"><span style="transform:scaleX(0.9941)">0</span></div>
<div class="t b" style="left:1343.93px;top:483px;font-size:13.3px;color:#0070c0"><span style="transform:scaleX(0.9941)">3</span></div>
<div class="t b" style="left:10.63px;top:563px;font-size:13.3px;color:#ff0000"><span style="transform:scaleX(0.9941)">6</span></div>
<div class="t b" style="left:43.41px;top:562px;font-size:17.4px;color:#984807"><span style="transform:scaleX(0.9535)">Degiocuondi6789</span></div>
<div class="t n" style="left:208.90px;top:533px;font-size:13.0px;color:#7030a0"><span style="transform:scaleX(0.9923)">Dàn 36 Số: (07 -> 11/10)</span></div>
<div class="t n" style="left:209.30px;top:553px;font-size:13.0px;color:#7030a0"><span style="transform:scaleX(0.9423)">06 09 16 19 26 29 36 39 46 49 56 59 60 61 62 63 64</span></div>
<div class="t n" style="left:209.30px;top:573px;font-size:13.0px;color:#7030a0"><span style="transform:scaleX(0.9423)">65 66 67 68 69 76 79 86 89 90 91 92 93 94 95 96 97</span></div>
<div class="t n" style="left:209.30px;top:593px;font-size:13.0px;color:#7030a0"><span style="transform:scaleX(0.9562)">98 99</span></div>
<div class="t b" style="left:533.95px;top:563px;font-size:13.3px;color:#002060"><span style="transform:scaleX(0.9947)">N2</span></div>
<div class="t b" style="left:583.95px;top:563px;font-size:13.3px;color:#002060"><span style="transform:scaleX(0.9947)">N2</span></div>
<div class="t b" style="left:633.95px;top:563px;font-size:13.3px;color:#002060"><span style="transform:scaleX(0.9947)">N2</span></div>
<div class="t b" style="left:1296.03px;top:563px;font-size:13.3px;color:#0070c0"><span style="transform:scaleX(0.9941)">0</span></div>
<div class="t b" style="left:1343.93px;top:563px;font-size:13.3px;color:#0070c0"><span style="transform:scaleX(0.9941)">3</span></div>
<div class="t b" style="left:10.63px;top:643px;font-size:13.3px;color:#ff0000"><span style="transform:scaleX(0.9941)">7</span></div>
<div class="t b" style="left:48.70px;top:642px;font-size:17.4px;color:#984807"><span style="transform:scaleX(0.9789)">Muanangdoitrai</span></div>
<div class="t n" style="left:208.90px;top:613px;font-size:13.0px;color:#7030a0"><span style="transform:scaleX(0.9923)">Dàn 36 Số: (07 -> 11/10)</span></div>
<div class="t n" style="left:209.30px;top:633px;font-size:13.0px;color:#7030a0"><span style="transform:scaleX(0.9453)">01 08 10 11 12 13 14 15 16 17 18 19 21 28 31 38 41</span></div>
<div class="t n" style="left:209.30px;top:653px;font-size:13.0px;color:#7030a0"><span style="transform:scaleX(0.9423)">48 51 58 61 68 71 78 80 81 82 83 84 85 86 87 88 89</span></div>
<div class="t n" style="left:209.30px;top:673px;font-size:13.0px;color:#7030a0"><span style="transform:scaleX(0.9562)">91 98</span></div>
<div class="t b" style="left:583.95px;top:643px;font-size:13.3px;color:#002060"><span style="transform:scaleX(0.9947)">N4</span></div>
<div class="t b" style="left:608.95px;top:643px;font-size:13.3px;color:#002060"><span style="transform:scaleX(0.9947)">N1</span></div>
<div class="t b" style="left:633.95px;top:643px;font-size:13.3px;color:#002060"><span style="transform:scaleX(0.9947)">N1</span></div>
<div class="t b" style="left:1296.03px;top:643px;font-size:13.3px;color:#0070c0"><span style="transform:scaleX(0.9941)">0</span></div>
<div class="t b" style="left:1343.93px;top:643px;font-size:13.3px;color:#0070c0"><span style="transform:scaleX(0.9941)">3</span></div>
<div class="t b" style="left:10.63px;top:723px;font-size:13.3px;color:#ff0000"><span style="transform:scaleX(0.9941)">8</span></div>
<div class="t b" style="left:67.23px;top:722px;font-size:17.4px;color:#984807"><span style="transform:scaleX(0.9470)">Aquarius92</span></div>
<div class="t n" style="left:208.90px;top:693px;font-size:13.0px;color:#7030a0"><span style="transform:scaleX(0.9857)">Dàn 36 Số: (04 -> 08/10)</span></div>
<div class="t n" style="left:209.30px;top:713px;font-size:13.0px;color:#7030a0"><span style="transform:scaleX(0.9423)">24 42 28 82 77 88 69 96 46 64 39 93 34 43 48 84 89</span></div>
<div class="t n" style="left:209.30px;top:733px;font-size:13.0px;color:#7030a0"><span style="transform:scaleX(0.9423)">98 14 41 03 30 35 53 23 32 37 73 78 87 67 76 26 62</span></div>
<div class="t n" style="left:209.30px;top:753px;font-size:13.0px;color:#7030a0"><span style="transform:scaleX(0.9562)">17 71</span></div>
<div class="t b" style="left:509.45px;top:723px;font-size:13.3px;color:#002060"><span style="transform:scaleX(0.9947)">N1</span></div>
<div class="t b" style="left:558.95px;top:723px;font-size:13.3px;color:#002060"><span style="transform:scaleX(0.9947)">N2</span></div>
<div class="t b" style="left:1296.03px;top:723px;font-size:13.3px;color:#0070c0"><span style="transform:scaleX(0.9941)">0</span></div>
<div class="t b" style="left:1343.93px;top:723px;font-size:13.3px;color:#0070c0"><span style="transform:scaleX(0.9941)">2</span></div>
<div class="t b" style="left:10.63px;top:803px;font-size:13.3px;color:#ff0000"><span style="transform:scaleX(0.9941)">9</span></div>
<div class="t b" style="left:62.87px;top:802px;font-size:17.4px;color:#984807"><span style="transform:scaleX(0.9345)">Sonduong91</span></div>
<div class="t n" style="left:208.90px;top:773px;font-size:13.0px;color:#7030a0"><span style="transform:scaleX(0.9857)">Dàn 36 Số: (04 -> 08/10)</span></div>
<div class="t n" style="left:209.30px;top:793px;font-size:13.0px;color:#7030a0"><span style="transform:scaleX(0.9453)">10 11 12 13 14 16 17 20 21 22 23 24 25 26 27 28 29</span></div>
<div class="t n" style="left:209.30px;top:813px;font-size:13.0px;color:#7030a0"><span style="transform:scaleX(0.9423)">40 41 42 43 44 45 46 47 48 49 70 71 73 74 75 76 77</span></div>
<div class="t n" style="left:209.30px;top:833px;font-size:13.0px;color:#7030a0"><span style="transform:scaleX(0.9562)">78 79</span></div>
<div class="t b" style="left:509.45px;top:803px;font-size:13.3px;color:#002060"><span style="transform:scaleX(0.9947)">N1</span></div>
<div class="t b" style="left:558.95px;top:803px;font-size:13.3px;color:#002060"><span style="transform:scaleX(0.9947)">N2</span></div>
<div class="t b" style="left:1296.03px;top:803px;font-size:13.3px;color:#0070c0"><span style="transform:scaleX(0.9941)">0</span></div>
<div class="t b" style="left:1343.93px;top:803px;font-size:13.3px;color:#0070c0"><span style="transform:scaleX(0.9941)">2</span></div>
<div class="t b" style="left:6.55px;top:883px;font-size:13.3px;color:#ff0000"><span style="transform:scaleX(0.9941)">10</span></div>
<div class="t b" style="left:59.08px;top:882px;font-size:17.4px;color:#00b0f0"><span style="transform:scaleX(0.9376)">hoangminhks</span></div>
<div class="t n" style="left:208.90px;top:853px;font-size:13.0px;color:#7030a0"><span style="transform:scaleX(0.9857)">Dàn 36 Số: (06 -> 10/10)</span></div>
<div class="t n" style="left:209.30px;top:873px;font-size:13.0px;color:#7030a0"><span style="transform:scaleX(0.9453)">01 04 09 10 11 14 15 16 17 18 19 25 26 28 29 34 38</span></div>
<div class="t n" style="left:209.30px;top:893px;font-size:13.0px;color:#7030a0"><span style="transform:scaleX(0.9423)">41 43 47 52 54 56 59 61 66 68 71 74 79 81 82 86 88</span></div>
<div class="t n" style="left:209.30px;top:913px;font-size:13.0px;color:#7030a0"><span style="transform:scaleX(0.9562)">92 97</span></div>
<div class="t b" style="left:509.45px;top:883px;font-size:13.3px;color:#002060"><span style="transform:scaleX(0.9947)">N1</span></div>
<div class="t b" style="left:583.95px;top:883px;font-size:13.3px;color:#002060"><span style="transform:scaleX(0.9947)">N3</span></div>
<div class="t b" style="left:612.62px;top:883px;font-size:13.3px;color:#002060"><span style="transform:scaleX(0.9951)">N</span></div>
<div class="t b" style="left:1296.03px;top:883px;font-size:13.3px;color:#0070c0"><span style="transform:scaleX(0.9941)">0</span></div>
<div class="t b" style="left:1343.93px;top:883px;font-size:13.3px;color:#0070c0"><span style="transform:scaleX(0.9941)">2</span></div>
<div class="t b" style="left:6.55px;top:963px;font-size:13.3px;color:#ff0000"><span style="transform:scaleX(1.0459)">11</span></div>
<div class="t b" style="left:93.57px;top:962px;font-size:17.4px;color:#984807"><span style="transform:scaleX(0.9348)">Tv85</span></div>
<div class="t n" style="left:208.90px;top:933px;font-size:13.0px;color:#7030a0"><span style="transform:scaleX(0.9923)">Dàn 36 Số: (07 -> 11/10)</span></div>
<div class="t n" style="left:209.30px;top:953px;font-size:13.0px;color:#7030a0"><span style="transform:scaleX(0.9453)">01 02 10 11 12 13 14 15 16 17 18 19 20 21 22 23 24</span></div>
<div class="t n" style="left:209.30px;top:973px;font-size:13.0px;color:#7030a0"><span style="transform:scaleX(0.9423)">25 26 27 28 29 31 32 41 42 51 52 61 62 71 72 81 82</span></div>
<div class="t n" style="left:209.30px;top:993px;font-size:13.0px;color:#7030a0"><span style="transform:scaleX(0.9562)">91 92</span></div>
<div class="t b" style="left:513.12px;top:963px;font-size:13.3px;color:#002060"><span style="transform:scaleX(0.9951)">N</span></div>
<div class="t b" style="left:533.95px;top:963px;font-size:13.3px;color:#002060"><span style="transform:scaleX(0.9947)">N1</span></div>
<div class="t b" style="left:633.95px;top:963px;font-size:13.3px;color:#002060"><span style="transform:scaleX(0.9947)">N4</span></div>
<div class="t b" style="left:1296.03px;top:963px;font-size:13.3px;color:#0070c0"><span style="transform:scaleX(0.9941)">0</span></div>
<div class="t b" style="left:1343.93px;top:963px;font-size:13.3px;color:#0070c0"><span style="transform:scaleX(0.9941)">2</span></div>
<div class="t b" style="left:6.55px;top:1043px;font-size:13.3px;color:#ff0000"><span style="transform:scaleX(0.9941)">12</span></div>
<div class="t b" style="left:65.24px;top:1042px;font-size:17.4px;color:#984807"><span style="transform:scaleX(0.9595)">Kemdau123</span></div>
<div class="t n" style="left:208.90px;top:1013px;font-size:13.0px;color:#7030a0"><span style="transform:scaleX(0.9857)">Dàn 36 Số: (06 -> 10/10)</span></div>
<div class="t n" style="left:209.30px;top:1033px;font-size:13.0px;color:#7030a0"><span style="transform:scaleX(0.9423)">01 10 56 65 29 92 79 97 37 73 24 42 06 60 15 51 00</span></div>
<div class="t n" style="left:209.30px;top:1053px;font-size:13.0px;color:#7030a0"><span style="transform:scaleX(0.9423)">55 08 80 05 50 46 64 69 96 14 41 19 91 28 82 23 32</span></div>
<div class="t n" style="left:209.30px;top:1073px;font-size:13.0px;color:#7030a0"><span style="transform:scaleX(0.9562)">78 87</span></div>
<div class="t b" style="left:533.95px;top:1043px;font-size:13.3px;color:#002060"><span style="transform:scaleX(0.9947)">N2</span></div>
<div class="t b" style="left:608.95px;top:1043px;font-size:13.3px;color:#002060"><span style="transform:scaleX(0.9947)">N3</span></div>
<div class="t b" style="left:1296.03px;top:1043px;font-size:13.3px;color:#0070c0"><span style="transform:scaleX(0.9941)">0</span></div>
<div class="t b" style="left:1343.93px;top:1043px;font-size:13.3px;color:#0070c0"><span style="transform:scaleX(0.9941)">2</span></div>
<div class="t b" style="left:6.55px;top:1123px;font-size:13.3px;color:#ff0000"><span style="transform:scaleX(0.9941)">13</span></div>
<div class="t b" style="left:81.59px;top:1122px;font-size:17.4px;color:#984807"><span style="transform:scaleX(0.9420)">Bepbon</span></div>
<div class="t n" style="left:208.90px;top:1093px;font-size:13.0px;color:#7030a0"><span style="transform:scaleX(0.9857)">Dàn 36 Số: (06 -> 10/10)</span></div>
<div class="t n" style="left:209.30px;top:1113px;font-size:13.0px;color:#7030a0"><span style="transform:scaleX(0.9423)">00 01 02 03 06 07 08 09 10 15 19 20 25 27 28 30 35</span></div>
<div class="t n" style="left:209.30px;top:1133px;font-size:13.0px;color:#7030a0"><span style="transform:scaleX(0.9423)">37 46 47 51 52 53 55 60 63 64 70 72 73 74 80 82 90</span></div>
<div class="t n" style="left:209.30px;top:1153px;font-size:13.0px;color:#7030a0"><span style="transform:scaleX(0.9562)">91 93</span></div>
<div class="t b" style="left:558.95px;top:1123px;font-size:13.3px;color:#002060"><span style="transform:scaleX(0.9947)">N3</span></div>
<div class="t b" style="left:608.95px;top:1123px;font-size:13.3px;color:#002060"><span style="transform:scaleX(0.9947)">N2</span></div>
<div class="t b" style="left:1296.03px;top:1123px;font-size:13.3px;color:#0070c0"><span style="transform:scaleX(0.9941)">0</span></div>
<div class="t b" style="left:1343.93px;top:1123px;font-size:13.3px;color:#0070c0"><span style="transform:scaleX(0.9941)">2</span></div>
<div class="t b" style="left:6.55px;top:1203px;font-size:13.3px;color:#ff0000"><span style="transform:scaleX(0.9941)">14</span></div>
<div class="t b" style="left:54.65px;top:1202px;font-size:17.4px;color:#984807"><span style="transform:scaleX(0.9434)">hongtrangcute</span></div>
<div class="t n" style="left:208.90px;top:1173px;font-size:13.0px;color:#7030a0"><span style="transform:scaleX(0.9857)">Dàn 36 Số: (05 -> 09/10)</span></div>
<div class="t n" style="left:209.30px;top:1193px;font-size:13.0px;color:#7030a0"><span style="transform:scaleX(0.9423)">02 03 06 09 14 15 20 23 29 30 32 33 36 39 41 42 47</span></div>
<div class="t n" style="left:209.30px;top:1213px;font-size:13.0px;color:#7030a0"><span style="transform:scaleX(0.9423)">48 51 53 60 62 63 68 71 74 78 81 84 86 87 89 90 92</span></div>
<div class="t n" style="left:209.30px;top:1233px;font-size:13.0px;color:#7030a0"><span style="transform:scaleX(0.9562)">93 98</span></div>
<div class="t b" style="left:583.95px;top:1203px;font-size:13.3px;color:#002060"><span style="transform:scaleX(0.9947)">N2</span></div>
<div class="t b" style="left:1296.03px;top:1203px;font-size:13.3px;color:#0070c0"><span style="transform:scaleX(0.9941)">0</span></div>
<div class="t b" style="left:1343.93px;top:1203px;font-size:13.3px;color:#0070c0"><span style="transform:scaleX(0.9941)">1</span></div>
<div class="t b" style="left:6.55px;top:1283px;font-size:13.3px;color:#ff0000"><span style="transform:scaleX(0.9941)">15</span></div>
<div class="t b" style="left:40.08px;top:1282px;font-size:17.4px;color:#984807"><span style="transform:scaleX(0.9550)">Kiep_ngheo_di_tu</span></div>
<div class="t n" style="left:208.90px;top:1253px;font-size:13.0px;color:#7030a0"><span style="transform:scaleX(0.9857)">Dàn 36 Số: (03 -> 07/10)</span></div>
<div class="t n" style="left:209.30px;top:1273px;font-size:13.0px;color:#7030a0"><span style="transform:scaleX(0.9423)">01 10 14 41 15 51 16 61 18 81 19 91 25 52 26 62 28</span></div>
<div class="t n" style="left:209.30px;top:1293px;font-size:13.0px;color:#7030a0"><span style="transform:scaleX(0.9423)">82 29 92 34 43 36 63 37 73 47 74 56 65 59 95 68 86</span></div>
<div class="t n" style="left:209.30px;top:1313px;font-size:13.0px;color:#7030a0"><span style="transform:scaleX(0.9853)">11 66</span></div>
<div class="t b" style="left:1296.03px;top:1283px;font-size:13.3px;color:#0070c0"><span style="transform:scaleX(0.9941)">0</span></div>
<div class="t b" style="left:1343.93px;top:1283px;font-size:13.3px;color:#0070c0"><span style="transform:scaleX(0.9941)">0</span></div>
<div class="t b" style="left:6.55px;top:1363px;font-size:13.3px;color:#ff0000"><span style="transform:scaleX(0.9941)">16</span></div>
<div class="t b" style="left:65.68px;top:1362px;font-size:17.4px;color:#984807"><span style="transform:scaleX(0.9793)">emvatoi213</span></div>
<div class="t n" style="left:208.90px;top:1333px;font-size:13.0px;color:#7030a0"><span style="transform:scaleX(0.9923)">Dàn 36 Số: (07 -> 11/10)</span></div>
<div class="t n" style="left:209.30px;top:1353px;font-size:13.0px;color:#7030a0"><span style="transform:scaleX(0.9423)">02 04 07 09 12 14 17 20 21 23 26 28 32 34 37 39 40</span></div>
<div class="t n" style="left:209.30px;top:1373px;font-size:13.0px;color:#7030a0"><span style="transform:scaleX(0.9423)">41 43 48 62 67 69 70 71 73 76 78 82 84 87 89 90 93</span></div>
<div class="t n" style="left:209.30px;top:1393px;font-size:13.0px;color:#7030a0"><span style="transform:scaleX(0.9562)">96 98</span></div>
<div class="t b" style="left:509.45px;top:1363px;font-size:13.3px;color:#002060"><span style="transform:scaleX(0.9947)">N1</span></div>
<div class="t b" style="left:638.50px;top:1363px;font-size:13.3px;color:#002060"><span style="transform:scaleX(0.9600)">o</span></div>
<div class="t b" style="left:1296.03px;top:1363px;font-size:13.3px;color:#0070c0"><span style="transform:scaleX(0.9941)">1</span></div>
<div class="t b" style="left:1343.93px;top:1363px;font-size:13.3px;color:#0070c0"><span style="transform:scaleX(0.9941)">1</span></div>
<div class="t b" style="left:6.55px;top:1443px;font-size:13.3px;color:#ff0000"><span style="transform:scaleX(0.9941)">17</span></div>
<div class="t b" style="left:83.21px;top:1442px;font-size:17.4px;color:#984807"><span style="transform:scaleX(0.9338)">hoason</span></div>
<div class="t n" style="left:208.90px;top:1413px;font-size:13.0px;color:#7030a0"><span style="transform:scaleX(0.9923)">Dàn 36 Số: (07 -> 11/10)</span></div>
<div class="t n" style="left:209.30px;top:1433px;font-size:13.0px;color:#7030a0"><span style="transform:scaleX(0.9423)">01 10 02 20 03 30 04 40 05 50 06 60 07 70 08 80 09</span></div>
<div class="t n" style="left:209.30px;top:1453px;font-size:13.0px;color:#7030a0"><span style="transform:scaleX(0.9423)">90 51 15 52 25 53 35 54 45 56 65 57 75 58 85 59 95</span></div>
<div class="t n" style="left:209.30px;top:1473px;font-size:13.0px;color:#7030a0"><span style="transform:scaleX(0.9562)">00 55</span></div>
<div class="t b" style="left:613.50px;top:1443px;font-size:13.3px;color:#002060"><span style="transform:scaleX(0.9600)">o</span></div>
<div class="t b" style="left:633.95px;top:1443px;font-size:13.3px;color:#002060"><span style="transform:scaleX(0.9947)">N1</span></div>
<div class="t b" style="left:1296.03px;top:1443px;font-size:13.3px;color:#0070c0"><span style="transform:scaleX(0.9941)">1</span></div>
<div class="t b" style="left:1343.93px;top:1443px;font-size:13.3px;color:#0070c0"><span style="transform:scaleX(0.9941)">1</span></div>
<div class="t b" style="left:6.55px;top:1523px;font-size:13.3px;color:#ff0000"><span style="transform:scaleX(0.9941)">18</span></div>
<div class="t b" style="left:88.19px;top:1522px;font-size:17.4px;color:#000000"><span style="transform:scaleX(0.9333)">bocap</span></div>
<div class="t b" style="left:613.50px;top:1523px;font-size:13.3px;color:#002060"><span style="transform:scaleX(0.9600)">o</span></div>
<div class="t b" style="left:633.95px;top:1523px;font-size:13.3px;color:#002060"><span style="transform:scaleX(0.9947)">N1</span></div>
<div class="t b" style="left:1296.03px;top:1523px;font-size:13.3px;color:#0070c0"><span style="transform:scaleX(0.9941)">1</span></div>
<div class="t b" style="left:1343.93px;top:1523px;font-size:13.3px;color:#0070c0"><span style="transform:scaleX(0.9941)">1</span></div>
<div class="t b" style="left:6.55px;top:1603px;font-size:13.3px;color:#ff0000"><span style="transform:scaleX(0.9941)">19</span></div>
<div class="t b" style="left:55.20px;top:1602px;font-size:17.4px;color:#000000"><span style="transform:scaleX(0.9496)">Langtudatinh9</span></div>
<div class="t n" style="left:208.90px;top:1573px;font-size:13.0px;color:#7030a0"><span style="transform:scaleX(0.9857)">Dàn 36 Số: (06 -> 10/10)</span></div>
<div class="t n" style="left:209.30px;top:1593px;font-size:13.0px;color:#7030a0"><span style="transform:scaleX(0.9453)">07 08 11 14 17 23 26 28 32 33 35 38 39 41 43 46 48</span></div>
<div class="t n" style="left:209.30px;top:1613px;font-size:13.0px;color:#7030a0"><span style="transform:scaleX(0.9423)">51 53 56 60 62 64 65 66 69 71 73 78 80 82 87 88 89</span></div>
<div class="t n" style="left:209.30px;top:1633px;font-size:13.0px;color:#7030a0"><span style="transform:scaleX(0.9562)">96 98</span></div>
<div class="t b" style="left:613.50px;top:1603px;font-size:13.3px;color:#002060"><span style="transform:scaleX(0.9600)">o</span></div>
<div class="t b" style="left:1296.03px;top:1603px;font-size:13.3px;color:#0070c0"><span style="transform:scaleX(0.9941)">1</span></div>
<div class="t b" style="left:1343.93px;top:1603px;font-size:13.3px;color:#0070c0"><span style="transform:scaleX(0.9941)">0</span></div>
</div></body></html>
